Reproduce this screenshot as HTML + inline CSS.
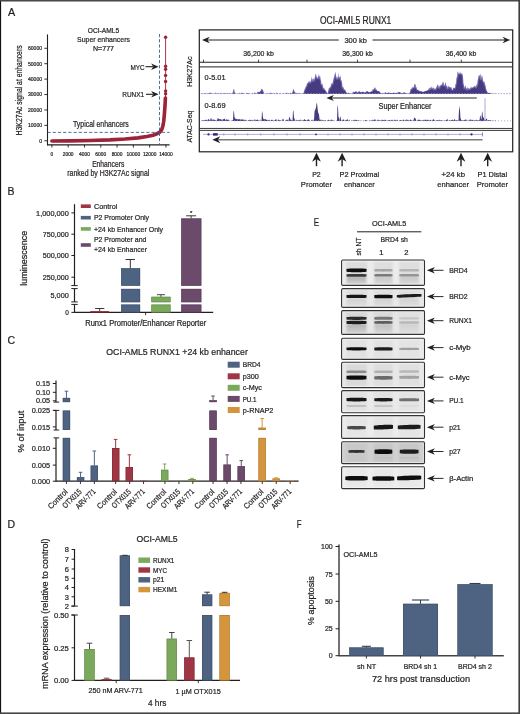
<!DOCTYPE html>
<html><head><meta charset="utf-8"><style>
html,body{margin:0;padding:0;background:#fff;}
body{width:520px;height:714px;overflow:hidden;font-family:"Liberation Sans",sans-serif;}
svg{display:block;will-change:transform;}
</style></head><body>
<svg width="520" height="714" viewBox="0 0 520 714" font-family="Liberation Sans, sans-serif" fill="#231f20"><style>text{stroke:#231f20;stroke-width:0.22px;}</style><rect x="0.00" y="0.00" width="520.00" height="714.00" fill="#ffffff"/>
<text x="8.00" y="15.90" font-size="10.8">A</text>
<text x="103.50" y="33.10" font-size="7.7" text-anchor="middle" textLength="31.5" lengthAdjust="spacingAndGlyphs">OCI-AML5</text>
<text x="103.50" y="42.30" font-size="7.8" text-anchor="middle" textLength="53" lengthAdjust="spacingAndGlyphs">Super enhancers</text>
<text x="103.50" y="50.70" font-size="7.5" text-anchor="middle" textLength="21" lengthAdjust="spacingAndGlyphs">N=777</text>
<line x1="47.50" y1="34.40" x2="47.50" y2="145.30" stroke="#231f20" stroke-width="1.1"/>
<line x1="47.00" y1="144.80" x2="169.60" y2="144.80" stroke="#231f20" stroke-width="1.3"/>
<line x1="44.30" y1="140.80" x2="47.50" y2="140.80" stroke="#231f20" stroke-width="0.9"/>
<text x="42.10" y="142.70" font-size="5.4" text-anchor="end" textLength="2.9" lengthAdjust="spacingAndGlyphs">0</text>
<line x1="44.30" y1="125.38" x2="47.50" y2="125.38" stroke="#231f20" stroke-width="0.9"/>
<text x="42.10" y="127.28" font-size="5.4" text-anchor="end" textLength="14.2" lengthAdjust="spacingAndGlyphs">10000</text>
<line x1="44.30" y1="109.96" x2="47.50" y2="109.96" stroke="#231f20" stroke-width="0.9"/>
<text x="42.10" y="111.86" font-size="5.4" text-anchor="end" textLength="14.2" lengthAdjust="spacingAndGlyphs">20000</text>
<line x1="44.30" y1="94.54" x2="47.50" y2="94.54" stroke="#231f20" stroke-width="0.9"/>
<text x="42.10" y="96.44" font-size="5.4" text-anchor="end" textLength="14.2" lengthAdjust="spacingAndGlyphs">30000</text>
<line x1="44.30" y1="79.12" x2="47.50" y2="79.12" stroke="#231f20" stroke-width="0.9"/>
<text x="42.10" y="81.02" font-size="5.4" text-anchor="end" textLength="14.2" lengthAdjust="spacingAndGlyphs">40000</text>
<line x1="44.30" y1="63.70" x2="47.50" y2="63.70" stroke="#231f20" stroke-width="0.9"/>
<text x="42.10" y="65.60" font-size="5.4" text-anchor="end" textLength="14.2" lengthAdjust="spacingAndGlyphs">50000</text>
<line x1="44.30" y1="48.28" x2="47.50" y2="48.28" stroke="#231f20" stroke-width="0.9"/>
<text x="42.10" y="50.18" font-size="5.4" text-anchor="end" textLength="14.2" lengthAdjust="spacingAndGlyphs">60000</text>
<line x1="51.90" y1="144.80" x2="51.90" y2="147.60" stroke="#231f20" stroke-width="0.9"/>
<text x="51.90" y="156.10" font-size="5.3" text-anchor="middle" textLength="2.7" lengthAdjust="spacingAndGlyphs">0</text>
<line x1="68.19" y1="144.80" x2="68.19" y2="147.60" stroke="#231f20" stroke-width="0.9"/>
<text x="68.19" y="156.10" font-size="5.3" text-anchor="middle" textLength="10.8" lengthAdjust="spacingAndGlyphs">2000</text>
<line x1="84.48" y1="144.80" x2="84.48" y2="147.60" stroke="#231f20" stroke-width="0.9"/>
<text x="84.48" y="156.10" font-size="5.3" text-anchor="middle" textLength="10.8" lengthAdjust="spacingAndGlyphs">4000</text>
<line x1="100.77" y1="144.80" x2="100.77" y2="147.60" stroke="#231f20" stroke-width="0.9"/>
<text x="100.77" y="156.10" font-size="5.3" text-anchor="middle" textLength="10.8" lengthAdjust="spacingAndGlyphs">6000</text>
<line x1="117.06" y1="144.80" x2="117.06" y2="147.60" stroke="#231f20" stroke-width="0.9"/>
<text x="117.06" y="156.10" font-size="5.3" text-anchor="middle" textLength="10.8" lengthAdjust="spacingAndGlyphs">8000</text>
<line x1="133.35" y1="144.80" x2="133.35" y2="147.60" stroke="#231f20" stroke-width="0.9"/>
<text x="133.35" y="156.10" font-size="5.3" text-anchor="middle" textLength="13.5" lengthAdjust="spacingAndGlyphs">10000</text>
<line x1="149.64" y1="144.80" x2="149.64" y2="147.60" stroke="#231f20" stroke-width="0.9"/>
<text x="149.64" y="156.10" font-size="5.3" text-anchor="middle" textLength="13.5" lengthAdjust="spacingAndGlyphs">12000</text>
<line x1="165.93" y1="144.80" x2="165.93" y2="147.60" stroke="#231f20" stroke-width="0.9"/>
<text x="165.93" y="156.10" font-size="5.3" text-anchor="middle" textLength="13.5" lengthAdjust="spacingAndGlyphs">14000</text>
<text x="108.20" y="166.60" font-size="8.6" text-anchor="middle" textLength="32.1" lengthAdjust="spacingAndGlyphs">Enhancers</text>
<text x="108.30" y="175.60" font-size="8.6" text-anchor="middle" textLength="82" lengthAdjust="spacingAndGlyphs">ranked by H3K27Ac signal</text>
<text x="21.80" y="90.40" font-size="8.8" text-anchor="middle" textLength="90" lengthAdjust="spacingAndGlyphs" transform="rotate(-90 21.80 90.40)">H3K27Ac signal at enhancers</text>
<text x="100.90" y="127.40" font-size="8.7" text-anchor="middle" textLength="55.8" lengthAdjust="spacingAndGlyphs">Typical enhancers</text>
<text x="144.60" y="69.50" font-size="8.0" text-anchor="end" textLength="14.2" lengthAdjust="spacingAndGlyphs">MYC</text>
<line x1="145.50" y1="66.70" x2="153.00" y2="66.70" stroke="#231f20" stroke-width="1.1"/>
<path d="M158.6,66.7 L151.1,63.5 L153.35,66.7 L151.1,69.9 Z" fill="#231f20"/>
<text x="144.20" y="97.20" font-size="8.0" text-anchor="end" textLength="22" lengthAdjust="spacingAndGlyphs">RUNX1</text>
<line x1="146.00" y1="94.30" x2="153.00" y2="94.30" stroke="#231f20" stroke-width="1.1"/>
<path d="M158.6,94.3 L151.1,91.1 L153.35,94.3 L151.1,97.5 Z" fill="#231f20"/>
<path d="M51.9,141.0 L70,140.9 L90,140.5 L110,139.9 L125,139.0 L138,137.9 L147,136.5 L153,135.2 L157,133.8 L159.8,132.1 L161.6,129.8 L162.8,126.4 L163.7,121.5 L164.4,114 L165.0,106 L165.4,98" fill="none" stroke="#9c2338" stroke-width="3.6" stroke-linecap="round" stroke-linejoin="round"/>
<line x1="165.60" y1="98.00" x2="165.60" y2="37.30" stroke="#9c2338" stroke-width="0.9"/>
<circle cx="165.6" cy="37.3" r="1.7" fill="#9c2338"/>
<circle cx="165.6" cy="66.2" r="1.7" fill="#9c2338"/>
<circle cx="165.6" cy="69.2" r="1.7" fill="#9c2338"/>
<circle cx="165.6" cy="75.4" r="1.7" fill="#9c2338"/>
<circle cx="165.6" cy="81.5" r="1.7" fill="#9c2338"/>
<circle cx="165.6" cy="91.0" r="1.7" fill="#9c2338"/>
<circle cx="165.6" cy="93.8" r="1.7" fill="#9c2338"/>
<line x1="47.50" y1="132.40" x2="169.60" y2="132.40" stroke="#3f5f8f" stroke-width="0.9" stroke-dasharray="3.2,2"/>
<line x1="159.50" y1="34.00" x2="159.50" y2="144.80" stroke="#3f5f8f" stroke-width="0.9" stroke-dasharray="3.2,2"/>
<text x="320.00" y="23.90" font-size="10.0" textLength="71.3" lengthAdjust="spacingAndGlyphs">OCI-AML5 RUNX1</text>
<rect x="199.3" y="29.9" width="313.4" height="121.9" fill="none" stroke="#231f20" stroke-width="1.2"/>
<line x1="205.00" y1="40.00" x2="338.80" y2="40.00" stroke="#231f20" stroke-width="1.2"/>
<line x1="372.50" y1="40.00" x2="507.00" y2="40.00" stroke="#231f20" stroke-width="1.2"/>
<path d="M202.0,40.0 L209.7,36.8 L207.39,40.0 L209.7,43.2 Z" fill="#231f20"/>
<path d="M510.3,40.0 L502.6,36.8 L504.91,40.0 L502.6,43.2 Z" fill="#231f20"/>
<text x="355.70" y="42.60" font-size="7.8" text-anchor="middle" textLength="22.5" lengthAdjust="spacingAndGlyphs">300 kb</text>
<line x1="199.30" y1="62.30" x2="512.70" y2="62.30" stroke="#231f20" stroke-width="1.1"/>
<line x1="203.50" y1="59.60" x2="203.50" y2="62.30" stroke="#231f20" stroke-width="0.8"/>
<line x1="258.50" y1="59.60" x2="258.50" y2="62.30" stroke="#231f20" stroke-width="0.8"/>
<line x1="307.00" y1="59.60" x2="307.00" y2="62.30" stroke="#231f20" stroke-width="0.8"/>
<line x1="357.50" y1="59.60" x2="357.50" y2="62.30" stroke="#231f20" stroke-width="0.8"/>
<line x1="410.00" y1="59.60" x2="410.00" y2="62.30" stroke="#231f20" stroke-width="0.8"/>
<line x1="461.30" y1="59.60" x2="461.30" y2="62.30" stroke="#231f20" stroke-width="0.8"/>
<text x="258.50" y="56.40" font-size="7.6" text-anchor="middle" textLength="30.5" lengthAdjust="spacingAndGlyphs">36,200 kb</text>
<text x="357.50" y="56.40" font-size="7.6" text-anchor="middle" textLength="30.5" lengthAdjust="spacingAndGlyphs">36,300 kb</text>
<text x="461.00" y="56.40" font-size="7.6" text-anchor="middle" textLength="30.5" lengthAdjust="spacingAndGlyphs">36,400 kb</text>
<line x1="199.30" y1="66.90" x2="512.70" y2="66.90" stroke="#231f20" stroke-width="1.0"/>
<text x="192.50" y="71.60" font-size="7.8" text-anchor="middle" textLength="30.5" lengthAdjust="spacingAndGlyphs" transform="rotate(-90 192.50 71.60)">H3K27Ac</text>
<text x="192.00" y="126.60" font-size="7.8" text-anchor="middle" textLength="31.8" lengthAdjust="spacingAndGlyphs" transform="rotate(-90 192.00 126.60)">ATAC-Seq</text>
<text x="204.60" y="80.40" font-size="7.6" textLength="21" lengthAdjust="spacingAndGlyphs">0-5.01</text>
<text x="204.60" y="107.90" font-size="7.6" textLength="21" lengthAdjust="spacingAndGlyphs">0-8.69</text>
<path d="M201.0,93.9 L201.0,92.93 L201.5,93.90 L202.0,92.99 L202.5,93.90 L203.0,92.99 L203.5,93.90 L204.0,93.90 L204.5,93.24 L205.0,92.63 L205.5,93.90 L206.0,92.42 L206.5,93.90 L207.0,93.90 L207.5,93.90 L208.0,93.58 L208.5,93.53 L209.0,93.31 L209.5,93.04 L210.0,92.59 L210.5,92.83 L211.0,92.81 L211.5,93.27 L212.0,93.90 L212.5,93.90 L213.0,93.90 L213.5,93.90 L214.0,93.32 L214.5,93.52 L215.0,93.90 L215.5,92.58 L216.0,92.45 L216.5,93.90 L217.0,93.35 L217.5,93.90 L218.0,92.42 L218.5,93.51 L219.0,93.90 L219.5,93.90 L220.0,93.50 L220.5,92.44 L221.0,93.90 L221.5,93.30 L222.0,93.53 L222.5,93.90 L223.0,92.93 L223.5,93.37 L224.0,93.90 L224.5,92.83 L225.0,93.10 L225.5,93.28 L226.0,93.90 L226.5,93.90 L227.0,92.54 L227.5,93.13 L228.0,93.90 L228.5,93.90 L229.0,92.41 L229.5,93.29 L230.0,93.90 L230.5,93.24 L231.0,93.49 L231.5,93.90 L232.0,92.88 L232.5,93.14 L233.0,91.26 L233.5,89.73 L234.0,88.50 L234.5,91.18 L235.0,92.88 L235.5,93.90 L236.0,93.90 L236.5,93.42 L237.0,93.90 L237.5,93.90 L238.0,93.37 L238.5,93.90 L239.0,93.90 L239.5,92.46 L240.0,93.90 L240.5,93.90 L241.0,93.48 L241.5,92.44 L242.0,92.75 L242.5,92.61 L243.0,93.90 L243.5,93.39 L244.0,93.90 L244.5,93.33 L245.0,93.90 L245.5,93.90 L246.0,93.90 L246.5,92.50 L247.0,93.58 L247.5,93.07 L248.0,93.39 L248.5,92.91 L249.0,93.17 L249.5,93.90 L250.0,93.90 L250.5,93.90 L251.0,93.90 L251.5,93.90 L252.0,93.56 L252.5,92.51 L253.0,93.90 L253.5,93.90 L254.0,92.84 L254.5,92.72 L255.0,92.40 L255.5,92.94 L256.0,93.90 L256.5,93.56 L257.0,92.70 L257.5,91.84 L258.0,91.75 L258.5,92.18 L259.0,92.60 L259.5,92.07 L260.0,91.53 L260.5,91.00 L261.0,89.47 L261.5,89.37 L262.0,88.53 L262.5,89.69 L263.0,89.86 L263.5,91.67 L264.0,92.78 L264.5,93.90 L265.0,93.90 L265.5,93.90 L266.0,93.90 L266.5,92.90 L267.0,93.90 L267.5,92.83 L268.0,93.90 L268.5,93.90 L269.0,93.90 L269.5,92.72 L270.0,93.90 L270.5,92.59 L271.0,92.70 L271.5,92.88 L272.0,93.32 L272.5,93.90 L273.0,92.86 L273.5,93.90 L274.0,93.59 L274.5,92.79 L275.0,93.40 L275.5,93.90 L276.0,93.90 L276.5,92.53 L277.0,92.80 L277.5,93.08 L278.0,93.90 L278.5,93.90 L279.0,93.90 L279.5,92.90 L280.0,93.44 L280.5,92.60 L281.0,93.90 L281.5,93.90 L282.0,93.90 L282.5,93.40 L283.0,93.27 L283.5,93.10 L284.0,93.90 L284.5,93.22 L285.0,93.90 L285.5,93.90 L286.0,93.51 L286.5,92.55 L287.0,92.75 L287.5,93.90 L288.0,92.65 L288.5,93.44 L289.0,93.57 L289.5,93.90 L290.0,93.43 L290.5,92.84 L291.0,92.84 L291.5,93.90 L292.0,93.33 L292.5,91.92 L293.0,89.76 L293.5,88.70 L294.0,90.28 L294.5,91.67 L295.0,91.81 L295.5,93.12 L296.0,93.90 L296.5,93.27 L297.0,92.76 L297.5,92.86 L298.0,93.90 L298.5,92.65 L299.0,93.90 L299.5,92.48 L300.0,93.90 L300.5,93.06 L301.0,93.90 L301.5,93.90 L302.0,92.92 L302.5,93.90 L303.0,93.90 L303.5,92.71 L304.0,91.50 L304.5,89.18 L305.0,88.64 L305.5,87.13 L306.0,85.99 L306.5,85.69 L307.0,83.01 L307.5,83.24 L308.0,82.93 L308.5,80.98 L309.0,82.17 L309.5,80.38 L310.0,82.66 L310.5,81.50 L311.0,80.19 L311.5,75.98 L312.0,81.15 L312.5,79.01 L313.0,78.46 L313.5,78.43 L314.0,80.75 L314.5,78.25 L315.0,76.84 L315.5,74.36 L316.0,73.64 L316.5,76.81 L317.0,76.75 L317.5,78.49 L318.0,76.88 L318.5,75.86 L319.0,73.99 L319.5,77.63 L320.0,74.99 L320.5,78.64 L321.0,80.50 L321.5,84.41 L322.0,83.66 L322.5,83.90 L323.0,86.80 L323.5,88.40 L324.0,87.32 L324.5,88.71 L325.0,90.04 L325.5,90.00 L326.0,90.93 L326.5,91.76 L327.0,92.70 L327.5,93.70 L328.0,91.70 L328.5,89.77 L329.0,87.82 L329.5,87.85 L330.0,87.45 L330.5,86.41 L331.0,85.10 L331.5,83.43 L332.0,82.80 L332.5,83.92 L333.0,81.07 L333.5,78.89 L334.0,76.82 L334.5,75.14 L335.0,73.05 L335.5,72.09 L336.0,75.65 L336.5,77.09 L337.0,78.98 L337.5,76.27 L338.0,78.31 L338.5,72.01 L339.0,78.11 L339.5,76.67 L340.0,77.28 L340.5,75.36 L341.0,80.37 L341.5,80.26 L342.0,82.22 L342.5,86.50 L343.0,87.86 L343.5,86.63 L344.0,89.05 L344.5,89.80 L345.0,89.14 L345.5,90.60 L346.0,91.55 L346.5,92.30 L347.0,93.03 L347.5,93.75 L348.0,92.46 L348.5,92.68 L349.0,93.04 L349.5,93.08 L350.0,93.90 L350.5,92.76 L351.0,93.90 L351.5,93.06 L352.0,93.90 L352.5,92.70 L353.0,91.50 L353.5,92.00 L354.0,92.50 L354.5,92.12 L355.0,91.75 L355.5,91.38 L356.0,91.00 L356.5,91.60 L357.0,92.20 L357.5,92.80 L358.0,92.13 L358.5,91.47 L359.0,91.03 L359.5,91.22 L360.0,91.65 L360.5,92.08 L361.0,92.50 L361.5,92.28 L362.0,92.05 L362.5,91.82 L363.0,91.60 L363.5,91.90 L364.0,92.20 L364.5,92.50 L365.0,92.80 L365.5,92.22 L366.0,91.65 L366.5,91.08 L367.0,91.30 L367.5,91.03 L368.0,91.55 L368.5,92.07 L369.0,92.60 L369.5,92.32 L370.0,92.05 L370.5,91.78 L371.0,91.50 L371.5,91.07 L372.0,91.80 L372.5,89.48 L373.0,88.87 L373.5,89.50 L374.0,88.79 L374.5,87.82 L375.0,87.31 L375.5,88.23 L376.0,89.73 L376.5,89.16 L377.0,89.99 L377.5,91.20 L378.0,90.97 L378.5,90.96 L379.0,91.53 L379.5,91.27 L380.0,92.03 L380.5,92.80 L381.0,93.17 L381.5,93.53 L382.0,93.59 L382.5,92.83 L383.0,93.90 L383.5,92.47 L384.0,93.90 L384.5,93.05 L385.0,92.20 L385.5,92.40 L386.0,92.60 L386.5,92.80 L387.0,93.00 L387.5,92.88 L388.0,92.75 L388.5,92.62 L389.0,92.50 L389.5,92.67 L390.0,92.85 L390.5,93.03 L391.0,93.20 L391.5,93.10 L392.0,93.00 L392.5,92.90 L393.0,92.80 L393.5,92.70 L394.0,92.60 L394.5,92.77 L395.0,92.95 L395.5,93.12 L396.0,93.30 L396.5,93.08 L397.0,92.85 L397.5,92.62 L398.0,92.40 L398.5,92.38 L399.0,92.35 L399.5,92.33 L400.0,92.30 L400.5,92.58 L401.0,92.85 L401.5,93.12 L402.0,93.40 L402.5,93.10 L403.0,92.80 L403.5,92.50 L404.0,92.20 L404.5,92.50 L405.0,92.80 L405.5,93.10 L406.0,93.40 L406.5,93.53 L407.0,93.65 L407.5,93.78 L408.0,92.81 L408.5,93.90 L409.0,93.13 L409.5,93.12 L410.0,91.81 L410.5,89.30 L411.0,89.02 L411.5,88.66 L412.0,87.22 L412.5,87.51 L413.0,87.43 L413.5,87.61 L414.0,85.68 L414.5,84.31 L415.0,83.75 L415.5,84.39 L416.0,87.27 L416.5,87.02 L417.0,89.23 L417.5,89.66 L418.0,90.22 L418.5,90.57 L419.0,89.51 L419.5,91.15 L420.0,91.42 L420.5,91.21 L421.0,91.00 L421.5,91.25 L422.0,91.50 L422.5,91.75 L423.0,92.00 L423.5,91.80 L424.0,91.60 L424.5,91.40 L425.0,91.20 L425.5,91.03 L426.0,90.79 L426.5,91.00 L427.0,90.13 L427.5,90.19 L428.0,90.24 L428.5,89.56 L429.0,87.62 L429.5,87.91 L430.0,89.10 L430.5,86.76 L431.0,88.39 L431.5,86.97 L432.0,86.50 L432.5,88.41 L433.0,88.13 L433.5,87.30 L434.0,89.16 L434.5,87.70 L435.0,89.62 L435.5,88.86 L436.0,87.64 L436.5,86.93 L437.0,85.95 L437.5,84.80 L438.0,84.42 L438.5,85.75 L439.0,87.93 L439.5,85.82 L440.0,86.34 L440.5,85.06 L441.0,85.09 L441.5,84.51 L442.0,84.85 L442.5,81.38 L443.0,83.56 L443.5,81.15 L444.0,85.06 L444.5,85.79 L445.0,83.64 L445.5,81.70 L446.0,84.75 L446.5,86.36 L447.0,85.36 L447.5,88.58 L448.0,85.76 L448.5,86.19 L449.0,87.35 L449.5,86.76 L450.0,87.03 L450.5,87.72 L451.0,86.61 L451.5,87.81 L452.0,89.03 L452.5,90.39 L453.0,88.05 L453.5,87.46 L454.0,88.33 L454.5,87.83 L455.0,87.69 L455.5,83.79 L456.0,83.77 L456.5,76.91 L457.0,77.80 L457.5,71.57 L458.0,71.88 L458.5,73.24 L459.0,73.33 L459.5,73.94 L460.0,71.21 L460.5,72.73 L461.0,74.01 L461.5,73.58 L462.0,73.23 L462.5,74.01 L463.0,76.76 L463.5,83.70 L464.0,85.09 L464.5,88.35 L465.0,86.34 L465.5,85.28 L466.0,88.12 L466.5,87.79 L467.0,89.72 L467.5,86.87 L468.0,88.20 L468.5,88.52 L469.0,87.78 L469.5,89.27 L470.0,88.18 L470.5,88.12 L471.0,86.38 L471.5,87.82 L472.0,87.57 L472.5,87.40 L473.0,87.22 L473.5,86.75 L474.0,86.40 L474.5,85.87 L475.0,86.68 L475.5,85.77 L476.0,87.33 L476.5,83.92 L477.0,85.16 L477.5,81.57 L478.0,78.80 L478.5,76.61 L479.0,74.81 L479.5,76.25 L480.0,74.38 L480.5,73.92 L481.0,79.47 L481.5,75.68 L482.0,75.44 L482.5,76.91 L483.0,80.07 L483.5,81.66 L484.0,82.08 L484.5,81.44 L485.0,84.77 L485.5,85.32 L486.0,88.39 L486.5,89.93 L487.0,91.17 L487.5,92.00 L488.0,92.64 L488.5,92.99 L489.0,93.10 L489.5,92.85 L490.0,92.60 L490.5,93.03 L491.0,93.47 L491.5,93.33 L492.0,93.90 L492.5,93.53 L493.0,93.65 L493.5,93.90 L494.0,93.90 L494.5,93.77 L495.0,93.60 L495.5,93.90 L496.0,93.90 L496.0,93.9 Z" fill="#7166ad"/>
<path d="M201.0,93.9 L201.0,93.90 L201.5,93.90 L202.0,93.90 L202.5,93.90 L203.0,93.90 L203.5,93.90 L204.0,93.90 L204.5,93.90 L205.0,93.90 L205.5,93.90 L206.0,93.90 L206.5,93.90 L207.0,93.90 L207.5,93.90 L208.0,93.90 L208.5,93.90 L209.0,93.58 L209.5,93.53 L210.0,93.31 L210.5,93.27 L211.0,93.90 L211.5,93.90 L212.0,93.90 L212.5,93.90 L213.0,93.90 L213.5,93.90 L214.0,93.90 L214.5,93.90 L215.0,93.90 L215.5,93.90 L216.0,93.90 L216.5,93.90 L217.0,93.90 L217.5,93.90 L218.0,93.90 L218.5,93.90 L219.0,93.90 L219.5,93.90 L220.0,93.90 L220.5,93.90 L221.0,93.90 L221.5,93.90 L222.0,93.90 L222.5,93.90 L223.0,93.90 L223.5,93.90 L224.0,93.90 L224.5,93.90 L225.0,93.90 L225.5,93.90 L226.0,93.90 L226.5,93.90 L227.0,93.90 L227.5,93.90 L228.0,93.90 L228.5,93.90 L229.0,93.90 L229.5,93.90 L230.0,93.90 L230.5,93.90 L231.0,93.90 L231.5,93.90 L232.0,93.90 L232.5,93.90 L233.0,93.14 L233.5,93.14 L234.0,92.88 L234.5,93.90 L235.0,93.90 L235.5,93.90 L236.0,93.90 L236.5,93.90 L237.0,93.90 L237.5,93.90 L238.0,93.90 L238.5,93.90 L239.0,93.90 L239.5,93.90 L240.0,93.90 L240.5,93.90 L241.0,93.90 L241.5,93.90 L242.0,93.90 L242.5,93.90 L243.0,93.90 L243.5,93.90 L244.0,93.90 L244.5,93.90 L245.0,93.90 L245.5,93.90 L246.0,93.90 L246.5,93.90 L247.0,93.90 L247.5,93.58 L248.0,93.58 L248.5,93.90 L249.0,93.90 L249.5,93.90 L250.0,93.90 L250.5,93.90 L251.0,93.90 L251.5,93.90 L252.0,93.90 L252.5,93.90 L253.0,93.90 L253.5,93.90 L254.0,93.90 L254.5,93.90 L255.0,93.90 L255.5,93.90 L256.0,93.90 L256.5,93.90 L257.0,93.90 L257.5,93.56 L258.0,92.70 L258.5,92.60 L259.0,92.60 L259.5,92.60 L260.0,92.60 L260.5,92.07 L261.0,91.53 L261.5,91.00 L262.0,90.66 L262.5,91.67 L263.0,92.78 L263.5,93.90 L264.0,93.90 L264.5,93.90 L265.0,93.90 L265.5,93.90 L266.0,93.90 L266.5,93.90 L267.0,93.90 L267.5,93.90 L268.0,93.90 L268.5,93.90 L269.0,93.90 L269.5,93.90 L270.0,93.90 L270.5,93.90 L271.0,93.90 L271.5,93.90 L272.0,93.90 L272.5,93.90 L273.0,93.90 L273.5,93.90 L274.0,93.90 L274.5,93.90 L275.0,93.90 L275.5,93.90 L276.0,93.90 L276.5,93.90 L277.0,93.90 L277.5,93.90 L278.0,93.90 L278.5,93.90 L279.0,93.90 L279.5,93.90 L280.0,93.90 L280.5,93.90 L281.0,93.90 L281.5,93.90 L282.0,93.90 L282.5,93.90 L283.0,93.90 L283.5,93.90 L284.0,93.90 L284.5,93.90 L285.0,93.90 L285.5,93.90 L286.0,93.90 L286.5,93.90 L287.0,93.90 L287.5,93.90 L288.0,93.90 L288.5,93.90 L289.0,93.90 L289.5,93.90 L290.0,93.90 L290.5,93.90 L291.0,93.90 L291.5,93.90 L292.0,93.90 L292.5,93.90 L293.0,93.33 L293.5,91.92 L294.0,91.81 L294.5,93.12 L295.0,93.90 L295.5,93.90 L296.0,93.90 L296.5,93.90 L297.0,93.90 L297.5,93.90 L298.0,93.90 L298.5,93.90 L299.0,93.90 L299.5,93.90 L300.0,93.90 L300.5,93.90 L301.0,93.90 L301.5,93.90 L302.0,93.90 L302.5,93.90 L303.0,93.90 L303.5,93.90 L304.0,93.90 L304.5,92.71 L305.0,91.50 L305.5,89.98 L306.0,89.44 L306.5,87.93 L307.0,86.79 L307.5,86.49 L308.0,84.04 L308.5,84.04 L309.0,83.73 L309.5,83.46 L310.0,83.46 L310.5,83.46 L311.0,83.46 L311.5,82.30 L312.0,81.95 L312.5,81.95 L313.0,81.95 L313.5,81.55 L314.0,81.55 L314.5,81.55 L315.0,81.55 L315.5,79.05 L316.0,77.64 L316.5,79.29 L317.0,79.29 L317.5,79.29 L318.0,79.29 L318.5,79.29 L319.0,78.43 L319.5,79.44 L320.0,81.30 L320.5,85.21 L321.0,85.21 L321.5,85.21 L322.0,87.60 L322.5,89.20 L323.0,89.20 L323.5,89.51 L324.0,90.04 L324.5,90.04 L325.0,90.93 L325.5,91.76 L326.0,92.70 L326.5,93.70 L327.0,93.70 L327.5,93.70 L328.0,93.70 L328.5,93.70 L329.0,91.70 L329.5,90.57 L330.0,88.65 L330.5,88.65 L331.0,88.25 L331.5,87.21 L332.0,85.90 L332.5,84.72 L333.0,84.72 L333.5,84.72 L334.0,81.87 L334.5,79.69 L335.0,77.62 L335.5,77.89 L336.0,79.78 L336.5,79.78 L337.0,79.78 L337.5,79.78 L338.0,79.78 L338.5,79.11 L339.0,79.11 L339.5,78.91 L340.0,81.17 L340.5,81.17 L341.0,83.02 L341.5,87.30 L342.0,88.66 L342.5,88.66 L343.0,89.85 L343.5,90.60 L344.0,90.60 L344.5,90.60 L345.0,91.55 L345.5,92.30 L346.0,93.03 L346.5,93.75 L347.0,93.75 L347.5,93.75 L348.0,93.75 L348.5,93.75 L349.0,93.90 L349.5,93.90 L350.0,93.90 L350.5,93.90 L351.0,93.90 L351.5,93.90 L352.0,93.90 L352.5,93.90 L353.0,93.90 L353.5,92.70 L354.0,92.50 L354.5,92.50 L355.0,92.50 L355.5,92.12 L356.0,92.20 L356.5,92.80 L357.0,92.80 L357.5,92.80 L358.0,92.80 L358.5,92.80 L359.0,92.13 L359.5,92.08 L360.0,92.50 L360.5,92.50 L361.0,92.50 L361.5,92.50 L362.0,92.50 L362.5,92.28 L363.0,92.20 L363.5,92.50 L364.0,92.80 L364.5,92.80 L365.0,92.80 L365.5,92.80 L366.0,92.80 L366.5,92.22 L367.0,91.65 L367.5,92.07 L368.0,92.60 L368.5,92.60 L369.0,92.60 L369.5,92.60 L370.0,92.60 L370.5,92.32 L371.0,92.05 L371.5,91.80 L372.0,91.80 L372.5,91.80 L373.0,91.80 L373.5,90.30 L374.0,90.30 L374.5,90.30 L375.0,90.53 L375.5,90.53 L376.0,89.99 L376.5,91.20 L377.0,91.20 L377.5,91.20 L378.0,91.53 L378.5,91.53 L379.0,92.03 L379.5,92.80 L380.0,93.17 L380.5,93.53 L381.0,93.59 L381.5,93.59 L382.0,93.90 L382.5,93.90 L383.0,93.90 L383.5,93.90 L384.0,93.90 L384.5,93.90 L385.0,93.90 L385.5,93.05 L386.0,93.00 L386.5,93.00 L387.0,93.00 L387.5,93.00 L388.0,93.00 L388.5,92.88 L389.0,92.85 L389.5,93.03 L390.0,93.20 L390.5,93.20 L391.0,93.20 L391.5,93.20 L392.0,93.20 L392.5,93.10 L393.0,93.00 L393.5,92.90 L394.0,92.95 L394.5,93.12 L395.0,93.30 L395.5,93.30 L396.0,93.30 L396.5,93.30 L397.0,93.30 L397.5,93.08 L398.0,92.85 L398.5,92.62 L399.0,92.40 L399.5,92.58 L400.0,92.85 L400.5,93.12 L401.0,93.40 L401.5,93.40 L402.0,93.40 L402.5,93.40 L403.0,93.40 L403.5,93.10 L404.0,92.80 L404.5,93.10 L405.0,93.40 L405.5,93.53 L406.0,93.65 L406.5,93.78 L407.0,93.78 L407.5,93.90 L408.0,93.90 L408.5,93.90 L409.0,93.90 L409.5,93.90 L410.0,93.13 L410.5,93.12 L411.0,91.81 L411.5,90.10 L412.0,89.82 L412.5,89.46 L413.0,88.41 L413.5,88.41 L414.0,88.41 L414.5,88.41 L415.0,88.07 L415.5,88.07 L416.0,90.03 L416.5,90.46 L417.0,90.22 L417.5,90.57 L418.0,90.57 L418.5,91.15 L419.0,91.42 L419.5,91.42 L420.0,91.42 L420.5,91.42 L421.0,91.50 L421.5,91.75 L422.0,92.00 L422.5,92.00 L423.0,92.00 L423.5,92.00 L424.0,92.00 L424.5,91.80 L425.0,91.60 L425.5,91.40 L426.0,91.20 L426.5,91.03 L427.0,91.00 L427.5,91.00 L428.0,90.24 L428.5,90.24 L429.0,90.24 L429.5,90.36 L430.0,89.90 L430.5,89.90 L431.0,89.90 L431.5,89.21 L432.0,89.21 L432.5,89.21 L433.0,89.96 L433.5,89.96 L434.0,90.42 L434.5,90.42 L435.0,90.42 L435.5,90.42 L436.0,90.42 L436.5,89.66 L437.0,88.44 L437.5,87.73 L438.0,88.73 L438.5,88.73 L439.0,88.73 L439.5,88.73 L440.0,88.73 L440.5,87.14 L441.0,87.14 L441.5,85.89 L442.0,85.89 L442.5,85.65 L443.0,85.86 L443.5,86.59 L444.0,86.59 L444.5,86.59 L445.0,86.59 L445.5,87.16 L446.0,87.16 L446.5,89.38 L447.0,89.38 L447.5,89.38 L448.0,89.38 L448.5,89.38 L449.0,88.15 L449.5,88.52 L450.0,88.52 L450.5,88.61 L451.0,89.83 L451.5,90.39 L452.0,90.39 L452.5,90.39 L453.0,90.39 L453.5,90.39 L454.0,89.13 L454.5,89.13 L455.0,89.13 L455.5,88.63 L456.0,88.49 L456.5,84.59 L457.0,84.57 L457.5,78.60 L458.0,78.60 L458.5,74.74 L459.0,74.74 L459.5,74.74 L460.0,74.81 L460.5,74.81 L461.0,74.81 L461.5,74.81 L462.0,77.56 L462.5,84.50 L463.0,85.89 L463.5,89.15 L464.0,89.15 L464.5,89.15 L465.0,89.15 L465.5,89.15 L466.0,90.52 L466.5,90.52 L467.0,90.52 L467.5,90.52 L468.0,90.52 L468.5,90.07 L469.0,90.07 L469.5,90.07 L470.0,90.07 L470.5,90.07 L471.0,88.98 L471.5,88.92 L472.0,88.62 L472.5,88.62 L473.0,88.37 L473.5,88.20 L474.0,88.02 L474.5,87.55 L475.0,88.13 L475.5,88.13 L476.0,88.13 L476.5,88.13 L477.0,88.13 L477.5,85.96 L478.0,85.96 L478.5,82.37 L479.0,79.60 L479.5,77.41 L480.0,80.27 L480.5,80.27 L481.0,80.27 L481.5,80.27 L482.0,80.87 L482.5,82.46 L483.0,82.88 L483.5,82.88 L484.0,85.57 L484.5,86.12 L485.0,89.19 L485.5,89.93 L486.0,91.17 L486.5,92.00 L487.0,92.64 L487.5,92.99 L488.0,93.10 L488.5,93.10 L489.0,93.10 L489.5,93.10 L490.0,93.47 L490.5,93.47 L491.0,93.90 L491.5,93.90 L492.0,93.90 L492.5,93.90 L493.0,93.90 L493.5,93.90 L494.0,93.90 L494.5,93.90 L495.0,93.90 L495.5,93.90 L496.0,93.90 L496.0,93.9 Z" fill="#463a80"/>
<line x1="201.00" y1="93.60" x2="511.00" y2="93.60" stroke="#9a94c8" stroke-width="0.8" stroke-dasharray="1.6,1.2"/>
<path d="M201.0,121.0 L201.0,121.00 L201.5,121.00 L202.0,121.00 L202.5,120.04 L203.0,120.15 L203.5,120.54 L204.0,120.52 L204.5,120.60 L205.0,119.79 L205.5,119.94 L206.0,119.50 L206.5,119.94 L207.0,121.00 L207.5,119.91 L208.0,119.58 L208.5,119.00 L209.0,119.58 L209.5,120.08 L210.0,121.00 L210.5,118.66 L211.0,118.00 L211.5,118.66 L212.0,121.00 L212.5,119.70 L213.0,119.00 L213.5,119.70 L214.0,119.94 L214.5,119.50 L215.0,119.94 L215.5,120.38 L216.0,120.45 L216.5,121.00 L217.0,120.49 L217.5,118.73 L218.0,117.80 L218.5,118.73 L219.0,119.58 L219.5,119.00 L220.0,119.17 L220.5,119.08 L221.0,119.50 L221.5,119.55 L222.0,121.00 L222.5,119.58 L223.0,119.00 L223.5,119.58 L224.0,118.97 L224.5,118.40 L225.0,118.97 L225.5,120.54 L226.0,120.25 L226.5,119.21 L227.0,119.20 L227.5,119.72 L228.0,119.94 L228.5,119.50 L229.0,119.94 L229.5,121.00 L230.0,120.41 L230.5,121.00 L231.0,121.00 L231.5,121.00 L232.0,121.00 L232.5,119.83 L233.0,121.00 L233.5,110.68 L234.0,111.52 L234.5,117.23 L235.0,117.93 L235.5,119.06 L236.0,118.80 L236.5,119.06 L237.0,119.31 L237.5,119.15 L238.0,119.47 L238.5,119.23 L239.0,119.00 L239.5,119.23 L240.0,119.47 L240.5,119.70 L241.0,119.40 L241.5,119.46 L242.0,119.20 L242.5,119.46 L243.0,119.72 L243.5,119.75 L244.0,119.40 L244.5,119.75 L245.0,121.00 L245.5,119.37 L246.0,121.00 L246.5,119.63 L247.0,121.00 L247.5,121.00 L248.0,120.44 L248.5,120.29 L249.0,120.00 L249.5,120.29 L250.0,119.53 L250.5,120.11 L251.0,120.48 L251.5,120.52 L252.0,119.44 L252.5,120.58 L253.0,120.58 L253.5,120.29 L254.0,121.00 L254.5,119.44 L255.0,119.06 L255.5,121.00 L256.0,119.56 L256.5,120.39 L257.0,119.48 L257.5,119.73 L258.0,119.86 L258.5,120.59 L259.0,121.00 L259.5,121.00 L260.0,119.08 L260.5,121.00 L261.0,120.60 L261.5,121.00 L262.0,110.77 L262.5,113.08 L263.0,118.00 L263.5,118.88 L264.0,119.58 L264.5,119.29 L265.0,119.00 L265.5,119.29 L266.0,119.58 L266.5,119.99 L267.0,119.42 L267.5,120.15 L268.0,119.80 L268.5,120.15 L269.0,121.00 L269.5,119.34 L270.0,121.00 L270.5,121.00 L271.0,120.37 L271.5,119.94 L272.0,119.50 L272.5,119.94 L273.0,121.00 L273.5,121.00 L274.0,120.53 L274.5,120.59 L275.0,120.31 L275.5,119.44 L276.0,119.00 L276.5,119.44 L277.0,121.00 L277.5,120.55 L278.0,121.00 L278.5,119.10 L279.0,119.98 L279.5,120.01 L280.0,120.00 L280.5,120.29 L281.0,121.00 L281.5,120.59 L282.0,121.00 L282.5,119.28 L283.0,118.80 L283.5,119.08 L284.0,121.00 L284.5,121.00 L285.0,121.00 L285.5,120.55 L286.0,121.00 L286.5,119.87 L287.0,119.40 L287.5,119.87 L288.0,120.57 L288.5,121.00 L289.0,117.78 L289.5,117.00 L290.0,117.78 L290.5,120.54 L291.0,119.07 L291.5,120.47 L292.0,120.12 L292.5,121.00 L293.0,110.25 L293.5,111.13 L294.0,117.50 L294.5,118.52 L295.0,121.00 L295.5,121.00 L296.0,119.24 L296.5,121.00 L297.0,119.51 L297.5,120.59 L298.0,121.00 L298.5,120.15 L299.0,119.80 L299.5,120.15 L300.0,120.48 L300.5,119.02 L301.0,121.00 L301.5,121.00 L302.0,119.74 L302.5,121.00 L303.0,119.52 L303.5,120.52 L304.0,119.90 L304.5,119.08 L305.0,119.55 L305.5,120.29 L306.0,120.08 L306.5,121.00 L307.0,121.00 L307.5,119.58 L308.0,120.05 L308.5,119.29 L309.0,119.43 L309.5,120.15 L310.0,121.00 L310.5,121.00 L311.0,121.00 L311.5,119.57 L312.0,121.00 L312.5,120.57 L313.0,119.08 L313.5,121.00 L314.0,120.19 L314.5,111.63 L315.0,110.27 L315.5,108.91 L316.0,107.54 L316.5,103.66 L317.0,102.64 L317.5,107.74 L318.0,112.00 L318.5,113.25 L319.0,114.50 L319.5,118.66 L320.0,120.53 L320.5,119.05 L321.0,121.00 L321.5,120.50 L322.0,119.35 L322.5,120.56 L323.0,120.50 L323.5,120.04 L324.0,121.00 L324.5,120.43 L325.0,120.20 L325.5,120.10 L326.0,121.00 L326.5,121.00 L327.0,120.60 L327.5,121.00 L328.0,119.73 L328.5,119.63 L329.0,120.59 L329.5,120.23 L330.0,121.00 L330.5,119.89 L331.0,119.74 L331.5,119.36 L332.0,121.00 L332.5,119.42 L333.0,121.00 L333.5,121.00 L334.0,119.74 L334.5,121.00 L335.0,121.00 L335.5,121.00 L336.0,121.00 L336.5,121.00 L337.0,121.00 L337.5,104.43 L338.0,107.51 L338.5,117.18 L339.0,117.70 L339.5,121.00 L340.0,117.17 L340.5,116.29 L341.0,119.73 L341.5,121.00 L342.0,120.42 L342.5,119.75 L343.0,119.40 L343.5,119.75 L344.0,119.23 L344.5,121.00 L345.0,121.00 L345.5,120.29 L346.0,120.00 L346.5,120.29 L347.0,119.05 L347.5,119.34 L348.0,120.59 L348.5,121.00 L349.0,121.00 L349.5,119.23 L350.0,121.00 L350.5,121.00 L351.0,121.00 L351.5,121.00 L352.0,119.75 L352.5,121.00 L353.0,121.00 L353.5,120.13 L354.0,119.44 L354.5,120.37 L355.0,119.60 L355.5,120.43 L356.0,120.20 L356.5,119.40 L357.0,120.58 L357.5,121.00 L358.0,120.08 L358.5,121.00 L359.0,119.74 L359.5,121.00 L360.0,121.00 L360.5,121.00 L361.0,121.00 L361.5,121.00 L362.0,120.19 L362.5,121.00 L363.0,121.00 L363.5,121.00 L364.0,121.00 L364.5,121.00 L365.0,119.94 L365.5,120.24 L366.0,120.00 L366.5,120.29 L367.0,121.00 L367.5,120.52 L368.0,121.00 L368.5,121.00 L369.0,120.60 L369.5,121.00 L370.0,120.58 L370.5,121.00 L371.0,119.68 L371.5,121.00 L372.0,120.16 L372.5,120.00 L373.0,119.60 L373.5,120.53 L374.0,120.60 L374.5,119.12 L375.0,119.80 L375.5,119.49 L376.0,120.51 L376.5,121.00 L377.0,120.54 L377.5,120.55 L378.0,119.27 L378.5,120.13 L379.0,119.77 L379.5,120.38 L380.0,121.00 L380.5,120.33 L381.0,120.22 L381.5,121.00 L382.0,119.40 L382.5,119.65 L383.0,120.00 L383.5,120.29 L384.0,120.57 L384.5,119.44 L385.0,120.21 L385.5,119.55 L386.0,120.60 L386.5,121.00 L387.0,120.19 L387.5,121.00 L388.0,121.00 L388.5,120.34 L389.0,120.06 L389.5,119.69 L390.0,121.00 L390.5,119.89 L391.0,121.00 L391.5,119.94 L392.0,119.50 L392.5,119.94 L393.0,121.00 L393.5,121.00 L394.0,121.00 L394.5,119.08 L395.0,121.00 L395.5,119.61 L396.0,120.51 L396.5,121.00 L397.0,119.39 L397.5,120.08 L398.0,121.00 L398.5,121.00 L399.0,120.59 L399.5,120.52 L400.0,120.58 L400.5,120.08 L401.0,120.00 L401.5,120.29 L402.0,121.00 L402.5,121.00 L403.0,119.56 L403.5,119.75 L404.0,119.71 L404.5,121.00 L405.0,120.56 L405.5,119.42 L406.0,121.00 L406.5,119.30 L407.0,119.60 L407.5,120.01 L408.0,121.00 L408.5,119.75 L409.0,120.54 L409.5,120.51 L410.0,120.40 L410.5,119.25 L411.0,120.11 L411.5,121.00 L412.0,119.57 L412.5,121.00 L413.0,121.00 L413.5,120.13 L414.0,118.24 L414.5,117.62 L415.0,117.99 L415.5,118.60 L416.0,119.68 L416.5,121.00 L417.0,121.00 L417.5,121.00 L418.0,119.38 L418.5,120.08 L419.0,119.35 L419.5,120.29 L420.0,120.00 L420.5,119.69 L421.0,121.00 L421.5,120.52 L422.0,120.54 L422.5,120.41 L423.0,119.84 L423.5,120.42 L424.0,119.18 L424.5,120.45 L425.0,120.44 L425.5,119.52 L426.0,119.77 L426.5,120.08 L427.0,119.80 L427.5,119.99 L428.0,119.62 L428.5,120.33 L429.0,121.00 L429.5,120.60 L430.0,119.84 L430.5,119.73 L431.0,120.46 L431.5,121.00 L432.0,120.30 L432.5,119.94 L433.0,119.50 L433.5,119.28 L434.0,119.55 L434.5,120.37 L435.0,121.00 L435.5,121.00 L436.0,121.00 L436.5,120.32 L437.0,120.51 L437.5,119.70 L438.0,120.40 L438.5,119.81 L439.0,121.00 L439.5,119.16 L440.0,121.00 L440.5,120.29 L441.0,120.00 L441.5,120.29 L442.0,120.48 L442.5,120.60 L443.0,121.00 L443.5,120.39 L444.0,121.00 L444.5,120.47 L445.0,120.51 L445.5,121.00 L446.0,119.73 L446.5,120.01 L447.0,119.60 L447.5,119.10 L448.0,120.33 L448.5,121.00 L449.0,121.00 L449.5,119.51 L450.0,121.00 L450.5,121.00 L451.0,119.86 L451.5,120.29 L452.0,120.00 L452.5,119.22 L453.0,121.00 L453.5,120.06 L454.0,119.99 L454.5,119.01 L455.0,119.60 L455.5,121.00 L456.0,120.04 L456.5,120.37 L457.0,119.79 L457.5,120.56 L458.0,121.00 L458.5,120.16 L459.0,110.23 L459.5,105.80 L460.0,110.23 L460.5,118.61 L461.0,119.16 L461.5,120.59 L462.0,120.60 L462.5,120.39 L463.0,120.27 L463.5,120.51 L464.0,120.47 L464.5,120.01 L465.0,119.60 L465.5,120.01 L466.0,119.32 L466.5,121.00 L467.0,119.09 L467.5,121.00 L468.0,121.00 L468.5,121.00 L469.0,120.54 L469.5,120.29 L470.0,119.30 L470.5,119.19 L471.0,121.00 L471.5,119.50 L472.0,120.26 L472.5,119.62 L473.0,120.46 L473.5,120.60 L474.0,120.60 L474.5,120.41 L475.0,120.26 L475.5,120.51 L476.0,120.42 L476.5,119.21 L477.0,121.00 L477.5,119.90 L478.0,120.50 L478.5,120.49 L479.0,120.27 L479.5,120.52 L480.0,116.25 L480.5,115.16 L481.0,119.01 L481.5,119.44 L482.0,111.02 L482.5,112.87 L483.0,117.53 L483.5,117.35 L484.0,118.22 L484.5,120.33 L485.0,120.59 L485.5,120.59 L486.0,119.05 L486.5,118.50 L487.0,119.05 L487.5,121.00 L488.0,120.43 L488.5,120.29 L489.0,120.00 L489.5,120.29 L490.0,120.19 L490.5,120.33 L491.0,120.59 L491.5,121.00 L492.0,120.78 L492.5,121.00 L493.0,120.11 L493.5,121.00 L494.0,121.00 L494.5,121.00 L495.0,120.49 L495.5,120.53 L496.0,120.22 L496.0,121.0 Z" fill="#463a80"/>
<line x1="485.00" y1="121.00" x2="485.00" y2="98.20" stroke="#8c85c4" stroke-width="0.7"/>
<line x1="201.00" y1="120.80" x2="511.00" y2="120.80" stroke="#a09ace" stroke-width="0.8" stroke-dasharray="1.2,1.8"/>
<line x1="331.00" y1="98.00" x2="476.80" y2="98.00" stroke="#6d6d6d" stroke-width="1.6"/>
<path d="M326.4,98.0 L333.9,95.0 L331.65,98.0 L333.9,101.0 Z" fill="#231f20"/>
<text x="378.50" y="108.60" font-size="8.3" textLength="53" lengthAdjust="spacingAndGlyphs">Super Enhancer</text>
<line x1="199.30" y1="128.45" x2="512.70" y2="128.45" stroke="#2e2e2e" stroke-width="0.95"/>
<line x1="199.30" y1="130.40" x2="512.70" y2="130.40" stroke="#2e2e2e" stroke-width="0.95"/>
<line x1="203.00" y1="134.40" x2="482.50" y2="134.40" stroke="#9c9ad6" stroke-width="0.8"/>
<circle cx="208.5" cy="134.4" r="1.1" fill="#2b2480"/>
<rect x="213.00" y="133.20" width="4.70" height="2.40" fill="#2b2480"/>
<line x1="223.80" y1="133.20" x2="223.80" y2="135.60" stroke="#7a7ac0" stroke-width="0.6"/>
<line x1="235.00" y1="133.20" x2="235.00" y2="135.60" stroke="#7a7ac0" stroke-width="0.6"/>
<line x1="247.70" y1="133.20" x2="247.70" y2="135.60" stroke="#7a7ac0" stroke-width="0.6"/>
<line x1="260.80" y1="133.20" x2="260.80" y2="135.60" stroke="#7a7ac0" stroke-width="0.6"/>
<line x1="274.00" y1="133.20" x2="274.00" y2="135.60" stroke="#7a7ac0" stroke-width="0.6"/>
<line x1="287.00" y1="133.20" x2="287.00" y2="135.60" stroke="#7a7ac0" stroke-width="0.6"/>
<line x1="300.00" y1="133.20" x2="300.00" y2="135.60" stroke="#7a7ac0" stroke-width="0.6"/>
<line x1="328.00" y1="133.20" x2="328.00" y2="135.60" stroke="#7a7ac0" stroke-width="0.6"/>
<line x1="340.00" y1="133.20" x2="340.00" y2="135.60" stroke="#7a7ac0" stroke-width="0.6"/>
<line x1="352.00" y1="133.20" x2="352.00" y2="135.60" stroke="#7a7ac0" stroke-width="0.6"/>
<line x1="364.00" y1="133.20" x2="364.00" y2="135.60" stroke="#7a7ac0" stroke-width="0.6"/>
<line x1="376.00" y1="133.20" x2="376.00" y2="135.60" stroke="#7a7ac0" stroke-width="0.6"/>
<line x1="388.00" y1="133.20" x2="388.00" y2="135.60" stroke="#7a7ac0" stroke-width="0.6"/>
<line x1="400.00" y1="133.20" x2="400.00" y2="135.60" stroke="#7a7ac0" stroke-width="0.6"/>
<line x1="412.00" y1="133.20" x2="412.00" y2="135.60" stroke="#7a7ac0" stroke-width="0.6"/>
<line x1="424.00" y1="133.20" x2="424.00" y2="135.60" stroke="#7a7ac0" stroke-width="0.6"/>
<line x1="436.00" y1="133.20" x2="436.00" y2="135.60" stroke="#7a7ac0" stroke-width="0.6"/>
<line x1="448.00" y1="133.20" x2="448.00" y2="135.60" stroke="#7a7ac0" stroke-width="0.6"/>
<line x1="460.00" y1="133.20" x2="460.00" y2="135.60" stroke="#7a7ac0" stroke-width="0.6"/>
<circle cx="316" cy="134.4" r="0.9" fill="#2b2480"/>
<circle cx="471.5" cy="134.4" r="1.1" fill="#2b2480"/>
<line x1="482.50" y1="132.40" x2="482.50" y2="136.40" stroke="#6b6bb8" stroke-width="0.8"/>
<line x1="216.00" y1="139.80" x2="482.50" y2="139.80" stroke="#7a7a7a" stroke-width="1.6"/>
<path d="M212.4,139.8 L220.20000000000002,136.3 L217.86,139.8 L220.20000000000002,143.3 Z" fill="#231f20"/>
<line x1="316.50" y1="158.00" x2="316.50" y2="166.20" stroke="#231f20" stroke-width="1.4"/>
<path d="M316.5,152.8 L312.1,161.8 L316.5,159.10000000000002 L320.9,161.8 Z" fill="#231f20"/>
<line x1="342.10" y1="158.00" x2="342.10" y2="166.20" stroke="#231f20" stroke-width="1.4"/>
<path d="M342.1,152.8 L337.70000000000005,161.8 L342.1,159.10000000000002 L346.5,161.8 Z" fill="#231f20"/>
<line x1="461.00" y1="158.00" x2="461.00" y2="166.20" stroke="#231f20" stroke-width="1.4"/>
<path d="M461,152.8 L456.6,161.8 L461,159.10000000000002 L465.4,161.8 Z" fill="#231f20"/>
<line x1="487.70" y1="158.00" x2="487.70" y2="166.20" stroke="#231f20" stroke-width="1.4"/>
<path d="M487.7,152.8 L483.3,161.8 L487.7,159.10000000000002 L492.09999999999997,161.8 Z" fill="#231f20"/>
<text x="316.40" y="176.90" font-size="8.0" text-anchor="middle" textLength="8.5" lengthAdjust="spacingAndGlyphs">P2</text>
<text x="316.40" y="186.60" font-size="8.0" text-anchor="middle" textLength="31.1" lengthAdjust="spacingAndGlyphs">Promoter</text>
<text x="359.40" y="176.90" font-size="8.0" text-anchor="middle" textLength="39.6" lengthAdjust="spacingAndGlyphs">P2 Proximal</text>
<text x="359.40" y="186.60" font-size="8.0" text-anchor="middle" textLength="30.8" lengthAdjust="spacingAndGlyphs">enhancer</text>
<text x="453.30" y="176.90" font-size="8.0" text-anchor="middle" textLength="23.7" lengthAdjust="spacingAndGlyphs">+24 kb</text>
<text x="453.20" y="186.60" font-size="8.0" text-anchor="middle" textLength="31.7" lengthAdjust="spacingAndGlyphs">enhancer</text>
<text x="492.30" y="176.90" font-size="8.0" text-anchor="middle" textLength="29.7" lengthAdjust="spacingAndGlyphs">P1 Distal</text>
<text x="492.30" y="186.60" font-size="8.0" text-anchor="middle" textLength="31.3" lengthAdjust="spacingAndGlyphs">Promoter</text>
<text x="7.60" y="195.00" font-size="10.5">B</text>
<line x1="74.50" y1="204.20" x2="74.50" y2="285.60" stroke="#231f20" stroke-width="1.2"/>
<line x1="74.50" y1="288.60" x2="74.50" y2="301.90" stroke="#231f20" stroke-width="1.2"/>
<line x1="74.50" y1="304.40" x2="74.50" y2="312.90" stroke="#231f20" stroke-width="1.2"/>
<line x1="71.30" y1="285.60" x2="77.70" y2="285.60" stroke="#231f20" stroke-width="1.0"/>
<line x1="71.30" y1="288.60" x2="77.70" y2="288.60" stroke="#231f20" stroke-width="1.0"/>
<line x1="71.30" y1="301.90" x2="77.70" y2="301.90" stroke="#231f20" stroke-width="1.0"/>
<line x1="71.30" y1="304.40" x2="77.70" y2="304.40" stroke="#231f20" stroke-width="1.0"/>
<line x1="71.40" y1="212.90" x2="74.50" y2="212.90" stroke="#231f20" stroke-width="1.0"/>
<text x="68.80" y="215.50" font-size="7.4" text-anchor="end" textLength="32.7" lengthAdjust="spacingAndGlyphs">1,000,000</text>
<line x1="71.40" y1="234.20" x2="74.50" y2="234.20" stroke="#231f20" stroke-width="1.0"/>
<text x="68.80" y="236.80" font-size="7.4" text-anchor="end" textLength="26.0" lengthAdjust="spacingAndGlyphs">750,000</text>
<line x1="71.40" y1="255.50" x2="74.50" y2="255.50" stroke="#231f20" stroke-width="1.0"/>
<text x="68.80" y="258.10" font-size="7.4" text-anchor="end" textLength="26.0" lengthAdjust="spacingAndGlyphs">500,000</text>
<line x1="71.40" y1="277.20" x2="74.50" y2="277.20" stroke="#231f20" stroke-width="1.0"/>
<text x="68.80" y="279.80" font-size="7.4" text-anchor="end" textLength="26.0" lengthAdjust="spacingAndGlyphs">250,000</text>
<text x="68.80" y="298.30" font-size="7.4" text-anchor="end" textLength="18.3" lengthAdjust="spacingAndGlyphs">5,000</text>
<line x1="71.40" y1="312.40" x2="74.50" y2="312.40" stroke="#231f20" stroke-width="1.0"/>
<text x="68.80" y="315.00" font-size="7.4" text-anchor="end" textLength="3.6" lengthAdjust="spacingAndGlyphs">0</text>
<line x1="74.50" y1="312.40" x2="213.20" y2="312.40" stroke="#231f20" stroke-width="1.2"/>
<line x1="145.60" y1="312.40" x2="145.60" y2="315.20" stroke="#231f20" stroke-width="0.9"/>
<text x="27.10" y="258.30" font-size="8.3" text-anchor="middle" textLength="55" lengthAdjust="spacingAndGlyphs" transform="rotate(-90 27.10 258.30)">luminescence</text>
<text x="85.20" y="325.90" font-size="8.5" textLength="121" lengthAdjust="spacingAndGlyphs">Runx1 Promoter/Enhancer Reporter</text>
<rect x="90.30" y="311.00" width="18.80" height="1.40" fill="#a03543"/>
<line x1="99.70" y1="311.00" x2="99.70" y2="308.50" stroke="#3a3a3a" stroke-width="1.0"/>
<line x1="95.10" y1="308.50" x2="104.30" y2="308.50" stroke="#3a3a3a" stroke-width="1.0"/>
<rect x="121.20" y="268.30" width="18.90" height="17.40" fill="#4e6282"/>
<rect x="121.50" y="268.60" width="18.30" height="16.80" fill="none" stroke="#3f506a" stroke-width="0.6"/>
<rect x="121.20" y="288.90" width="18.90" height="13.30" fill="#4e6282"/>
<rect x="121.50" y="289.20" width="18.30" height="12.70" fill="none" stroke="#3f506a" stroke-width="0.6"/>
<rect x="121.20" y="304.60" width="18.90" height="7.80" fill="#4e6282"/>
<rect x="121.50" y="304.90" width="18.30" height="7.20" fill="none" stroke="#3f506a" stroke-width="0.6"/>
<line x1="130.30" y1="268.30" x2="130.30" y2="259.50" stroke="#333" stroke-width="1.0"/>
<line x1="125.60" y1="259.50" x2="135.00" y2="259.50" stroke="#333" stroke-width="1.0"/>
<rect x="151.40" y="296.80" width="19.10" height="5.40" fill="#7aa95c"/>
<rect x="151.70" y="297.10" width="18.50" height="4.80" fill="none" stroke="#648a4b" stroke-width="0.6"/>
<rect x="151.40" y="304.60" width="19.10" height="7.80" fill="#7aa95c"/>
<rect x="151.70" y="304.90" width="18.50" height="7.20" fill="none" stroke="#648a4b" stroke-width="0.6"/>
<line x1="160.95" y1="296.80" x2="160.95" y2="294.70" stroke="#444" stroke-width="1.0"/>
<line x1="156.95" y1="294.70" x2="164.95" y2="294.70" stroke="#444" stroke-width="1.0"/>
<rect x="181.30" y="218.50" width="20.00" height="67.20" fill="#6c4a6b"/>
<rect x="181.60" y="218.80" width="19.40" height="66.60" fill="none" stroke="#583c57" stroke-width="0.6"/>
<rect x="181.30" y="288.90" width="20.00" height="13.30" fill="#6c4a6b"/>
<rect x="181.60" y="289.20" width="19.40" height="12.70" fill="none" stroke="#583c57" stroke-width="0.6"/>
<rect x="181.30" y="304.60" width="20.00" height="7.80" fill="#6c4a6b"/>
<rect x="181.60" y="304.90" width="19.40" height="7.20" fill="none" stroke="#583c57" stroke-width="0.6"/>
<line x1="191.10" y1="218.30" x2="191.10" y2="215.80" stroke="#3a3a3a" stroke-width="1.0"/>
<line x1="186.10" y1="215.80" x2="196.10" y2="215.80" stroke="#3a3a3a" stroke-width="1.0"/>
<text x="191.10" y="215.30" font-size="6" text-anchor="middle">*</text>
<rect x="80.80" y="204.40" width="10.00" height="3.60" fill="#a03543"/>
<rect x="80.80" y="215.90" width="10.00" height="3.60" fill="#4e6282"/>
<rect x="80.80" y="227.10" width="10.00" height="3.60" fill="#7aa95c"/>
<rect x="80.80" y="243.20" width="10.00" height="3.60" fill="#6c4a6b"/>
<text x="93.90" y="209.00" font-size="7.8" textLength="23.4" lengthAdjust="spacingAndGlyphs">Control</text>
<text x="93.90" y="220.30" font-size="7.8" textLength="55.2" lengthAdjust="spacingAndGlyphs">P2 Promoter Only</text>
<text x="93.90" y="231.70" font-size="7.8" textLength="69.2" lengthAdjust="spacingAndGlyphs">+24 kb Enhancer Only</text>
<text x="93.90" y="242.40" font-size="7.8" textLength="52.5" lengthAdjust="spacingAndGlyphs">P2 Promoter and</text>
<text x="93.90" y="252.40" font-size="7.8" textLength="53.1" lengthAdjust="spacingAndGlyphs">+24 kb Enhancer</text>
<text x="7.50" y="343.90" font-size="10.5">C</text>
<text x="106.30" y="355.20" font-size="9.4" textLength="141.5" lengthAdjust="spacingAndGlyphs">OCI-AML5 RUNX1 +24 kb enhancer</text>
<line x1="56.00" y1="380.60" x2="56.00" y2="402.10" stroke="#231f20" stroke-width="1.2"/>
<line x1="56.00" y1="410.40" x2="56.00" y2="430.00" stroke="#231f20" stroke-width="1.2"/>
<line x1="56.00" y1="437.90" x2="56.00" y2="481.70" stroke="#231f20" stroke-width="1.2"/>
<line x1="53.60" y1="402.10" x2="59.20" y2="402.10" stroke="#231f20" stroke-width="1.0"/>
<line x1="53.60" y1="410.40" x2="59.20" y2="410.40" stroke="#231f20" stroke-width="1.0"/>
<line x1="53.60" y1="430.00" x2="59.20" y2="430.00" stroke="#231f20" stroke-width="1.0"/>
<line x1="53.60" y1="437.90" x2="59.20" y2="437.90" stroke="#231f20" stroke-width="1.0"/>
<line x1="52.80" y1="383.50" x2="56.00" y2="383.50" stroke="#231f20" stroke-width="1.0"/>
<text x="50.10" y="386.10" font-size="7.8" text-anchor="end" textLength="14.2" lengthAdjust="spacingAndGlyphs">0.15</text>
<line x1="52.80" y1="392.30" x2="56.00" y2="392.30" stroke="#231f20" stroke-width="1.0"/>
<text x="50.10" y="394.90" font-size="7.8" text-anchor="end" textLength="14.2" lengthAdjust="spacingAndGlyphs">0.10</text>
<line x1="52.80" y1="400.80" x2="56.00" y2="400.80" stroke="#231f20" stroke-width="1.0"/>
<text x="50.10" y="403.40" font-size="7.8" text-anchor="end" textLength="14.2" lengthAdjust="spacingAndGlyphs">0.05</text>
<line x1="52.80" y1="410.40" x2="56.00" y2="410.40" stroke="#231f20" stroke-width="1.0"/>
<text x="50.10" y="413.00" font-size="7.8" text-anchor="end" textLength="18.4" lengthAdjust="spacingAndGlyphs">0.025</text>
<line x1="52.80" y1="426.90" x2="56.00" y2="426.90" stroke="#231f20" stroke-width="1.0"/>
<text x="50.10" y="429.50" font-size="7.8" text-anchor="end" textLength="18.4" lengthAdjust="spacingAndGlyphs">0.015</text>
<line x1="52.80" y1="448.30" x2="56.00" y2="448.30" stroke="#231f20" stroke-width="1.0"/>
<text x="50.10" y="450.90" font-size="7.8" text-anchor="end" textLength="18.4" lengthAdjust="spacingAndGlyphs">0.010</text>
<line x1="52.80" y1="465.10" x2="56.00" y2="465.10" stroke="#231f20" stroke-width="1.0"/>
<text x="50.10" y="467.70" font-size="7.8" text-anchor="end" textLength="18.4" lengthAdjust="spacingAndGlyphs">0.005</text>
<line x1="52.80" y1="481.20" x2="56.00" y2="481.20" stroke="#231f20" stroke-width="1.0"/>
<text x="50.10" y="483.80" font-size="7.8" text-anchor="end" textLength="18.4" lengthAdjust="spacingAndGlyphs">0.000</text>
<line x1="56.00" y1="481.20" x2="298.60" y2="481.20" stroke="#231f20" stroke-width="1.2"/>
<text x="23.70" y="431.50" font-size="8.3" text-anchor="middle" textLength="42" lengthAdjust="spacingAndGlyphs" transform="rotate(-90 23.70 431.50)">% of input</text>
<rect x="62.80" y="397.90" width="7.30" height="4.20" fill="#4e6282"/>
<rect x="63.10" y="398.20" width="6.70" height="3.60" fill="none" stroke="#3f506a" stroke-width="0.6"/>
<rect x="62.80" y="410.60" width="7.30" height="19.40" fill="#4e6282"/>
<rect x="63.10" y="410.90" width="6.70" height="18.80" fill="none" stroke="#3f506a" stroke-width="0.6"/>
<rect x="62.80" y="437.90" width="7.30" height="43.30" fill="#4e6282"/>
<rect x="63.10" y="438.20" width="6.70" height="42.70" fill="none" stroke="#3f506a" stroke-width="0.6"/>
<line x1="66.45" y1="397.90" x2="66.45" y2="391.20" stroke="#4e6282" stroke-width="1.0"/>
<line x1="64.65" y1="391.20" x2="68.25" y2="391.20" stroke="#4e6282" stroke-width="1.0"/>
<rect x="76.90" y="477.20" width="7.30" height="4.00" fill="#4e6282"/>
<rect x="77.20" y="477.50" width="6.70" height="3.40" fill="none" stroke="#3f506a" stroke-width="0.6"/>
<line x1="80.55" y1="477.20" x2="80.55" y2="472.30" stroke="#4e6282" stroke-width="1.0"/>
<line x1="78.75" y1="472.30" x2="82.35" y2="472.30" stroke="#4e6282" stroke-width="1.0"/>
<rect x="90.70" y="465.60" width="7.30" height="15.60" fill="#4e6282"/>
<rect x="91.00" y="465.90" width="6.70" height="15.00" fill="none" stroke="#3f506a" stroke-width="0.6"/>
<line x1="94.35" y1="465.60" x2="94.35" y2="451.00" stroke="#4e6282" stroke-width="1.0"/>
<line x1="92.55" y1="451.00" x2="96.15" y2="451.00" stroke="#4e6282" stroke-width="1.0"/>
<rect x="112.00" y="448.00" width="7.30" height="33.20" fill="#a03543"/>
<rect x="112.30" y="448.30" width="6.70" height="32.60" fill="none" stroke="#832b36" stroke-width="0.6"/>
<line x1="115.65" y1="448.00" x2="115.65" y2="439.40" stroke="#a03543" stroke-width="1.0"/>
<line x1="113.85" y1="439.40" x2="117.45" y2="439.40" stroke="#a03543" stroke-width="1.0"/>
<rect x="125.70" y="467.00" width="7.30" height="14.20" fill="#a03543"/>
<rect x="126.00" y="467.30" width="6.70" height="13.60" fill="none" stroke="#832b36" stroke-width="0.6"/>
<line x1="129.35" y1="467.00" x2="129.35" y2="454.80" stroke="#a03543" stroke-width="1.0"/>
<line x1="127.55" y1="454.80" x2="131.15" y2="454.80" stroke="#a03543" stroke-width="1.0"/>
<rect x="139.90" y="480.70" width="7.30" height="0.50" fill="#a03543"/>
<rect x="161.00" y="469.80" width="7.30" height="11.40" fill="#7aa95c"/>
<rect x="161.30" y="470.10" width="6.70" height="10.80" fill="none" stroke="#648a4b" stroke-width="0.6"/>
<line x1="164.65" y1="469.80" x2="164.65" y2="464.00" stroke="#7aa95c" stroke-width="1.0"/>
<line x1="162.85" y1="464.00" x2="166.45" y2="464.00" stroke="#7aa95c" stroke-width="1.0"/>
<rect x="175.00" y="480.90" width="7.30" height="0.30" fill="#7aa95c"/>
<rect x="188.40" y="479.00" width="7.30" height="2.20" fill="#7aa95c"/>
<rect x="188.70" y="479.30" width="6.70" height="1.60" fill="none" stroke="#648a4b" stroke-width="0.6"/>
<line x1="192.05" y1="479.00" x2="192.05" y2="478.30" stroke="#7aa95c" stroke-width="1.0"/>
<line x1="190.25" y1="478.30" x2="193.85" y2="478.30" stroke="#7aa95c" stroke-width="1.0"/>
<rect x="209.40" y="400.30" width="7.30" height="1.80" fill="#6c4a6b"/>
<rect x="209.70" y="400.60" width="6.70" height="1.20" fill="none" stroke="#583c57" stroke-width="0.6"/>
<rect x="209.40" y="410.60" width="7.30" height="19.40" fill="#6c4a6b"/>
<rect x="209.70" y="410.90" width="6.70" height="18.80" fill="none" stroke="#583c57" stroke-width="0.6"/>
<rect x="209.40" y="437.90" width="7.30" height="43.30" fill="#6c4a6b"/>
<rect x="209.70" y="438.20" width="6.70" height="42.70" fill="none" stroke="#583c57" stroke-width="0.6"/>
<line x1="213.05" y1="400.30" x2="213.05" y2="396.00" stroke="#6c4a6b" stroke-width="1.0"/>
<line x1="211.25" y1="396.00" x2="214.85" y2="396.00" stroke="#6c4a6b" stroke-width="1.0"/>
<rect x="223.50" y="464.60" width="7.30" height="16.60" fill="#6c4a6b"/>
<rect x="223.80" y="464.90" width="6.70" height="16.00" fill="none" stroke="#583c57" stroke-width="0.6"/>
<line x1="227.15" y1="464.60" x2="227.15" y2="454.80" stroke="#6c4a6b" stroke-width="1.0"/>
<line x1="225.35" y1="454.80" x2="228.95" y2="454.80" stroke="#6c4a6b" stroke-width="1.0"/>
<rect x="237.60" y="466.20" width="7.30" height="15.00" fill="#6c4a6b"/>
<rect x="237.90" y="466.50" width="6.70" height="14.40" fill="none" stroke="#583c57" stroke-width="0.6"/>
<line x1="241.25" y1="466.20" x2="241.25" y2="460.60" stroke="#6c4a6b" stroke-width="1.0"/>
<line x1="239.45" y1="460.60" x2="243.05" y2="460.60" stroke="#6c4a6b" stroke-width="1.0"/>
<rect x="258.50" y="427.70" width="7.30" height="2.30" fill="#d5953d"/>
<rect x="258.80" y="428.00" width="6.70" height="1.70" fill="none" stroke="#ae7a32" stroke-width="0.6"/>
<rect x="258.50" y="437.90" width="7.30" height="43.30" fill="#d5953d"/>
<rect x="258.80" y="438.20" width="6.70" height="42.70" fill="none" stroke="#ae7a32" stroke-width="0.6"/>
<line x1="262.15" y1="427.70" x2="262.15" y2="418.50" stroke="#d5953d" stroke-width="1.0"/>
<line x1="260.35" y1="418.50" x2="263.95" y2="418.50" stroke="#d5953d" stroke-width="1.0"/>
<rect x="272.60" y="478.50" width="7.30" height="2.70" fill="#d5953d"/>
<rect x="272.90" y="478.80" width="6.70" height="2.10" fill="none" stroke="#ae7a32" stroke-width="0.6"/>
<line x1="276.25" y1="478.50" x2="276.25" y2="477.80" stroke="#d5953d" stroke-width="1.0"/>
<line x1="274.45" y1="477.80" x2="278.05" y2="477.80" stroke="#d5953d" stroke-width="1.0"/>
<rect x="286.60" y="480.50" width="7.30" height="0.70" fill="#d5953d"/>
<line x1="66.45" y1="481.20" x2="66.45" y2="484.00" stroke="#231f20" stroke-width="0.9"/>
<text x="68.25" y="492.20" font-size="8.0" text-anchor="end" textLength="24.5" lengthAdjust="spacingAndGlyphs" transform="rotate(-45 68.25 492.20)">Control</text>
<line x1="80.45" y1="481.20" x2="80.45" y2="484.00" stroke="#231f20" stroke-width="0.9"/>
<text x="82.25" y="492.20" font-size="8.0" text-anchor="end" textLength="23.5" lengthAdjust="spacingAndGlyphs" transform="rotate(-45 82.25 492.20)">OTX015</text>
<line x1="94.35" y1="481.20" x2="94.35" y2="484.00" stroke="#231f20" stroke-width="0.9"/>
<text x="96.15" y="492.20" font-size="8.0" text-anchor="end" textLength="24.5" lengthAdjust="spacingAndGlyphs" transform="rotate(-45 96.15 492.20)">ARV-771</text>
<line x1="115.65" y1="481.20" x2="115.65" y2="484.00" stroke="#231f20" stroke-width="0.9"/>
<text x="117.45" y="492.20" font-size="8.0" text-anchor="end" textLength="24.5" lengthAdjust="spacingAndGlyphs" transform="rotate(-45 117.45 492.20)">Control</text>
<line x1="129.65" y1="481.20" x2="129.65" y2="484.00" stroke="#231f20" stroke-width="0.9"/>
<text x="131.45" y="492.20" font-size="8.0" text-anchor="end" textLength="23.5" lengthAdjust="spacingAndGlyphs" transform="rotate(-45 131.45 492.20)">OTX015</text>
<line x1="143.55" y1="481.20" x2="143.55" y2="484.00" stroke="#231f20" stroke-width="0.9"/>
<text x="145.35" y="492.20" font-size="8.0" text-anchor="end" textLength="24.5" lengthAdjust="spacingAndGlyphs" transform="rotate(-45 145.35 492.20)">ARV-771</text>
<line x1="164.95" y1="481.20" x2="164.95" y2="484.00" stroke="#231f20" stroke-width="0.9"/>
<text x="166.75" y="492.20" font-size="8.0" text-anchor="end" textLength="24.5" lengthAdjust="spacingAndGlyphs" transform="rotate(-45 166.75 492.20)">Control</text>
<line x1="178.95" y1="481.20" x2="178.95" y2="484.00" stroke="#231f20" stroke-width="0.9"/>
<text x="180.75" y="492.20" font-size="8.0" text-anchor="end" textLength="23.5" lengthAdjust="spacingAndGlyphs" transform="rotate(-45 180.75 492.20)">OTX015</text>
<line x1="192.85" y1="481.20" x2="192.85" y2="484.00" stroke="#231f20" stroke-width="0.9"/>
<text x="194.65" y="492.20" font-size="8.0" text-anchor="end" textLength="24.5" lengthAdjust="spacingAndGlyphs" transform="rotate(-45 194.65 492.20)">ARV-771</text>
<line x1="213.05" y1="481.20" x2="213.05" y2="484.00" stroke="#231f20" stroke-width="0.9"/>
<text x="214.85" y="492.20" font-size="8.0" text-anchor="end" textLength="24.5" lengthAdjust="spacingAndGlyphs" transform="rotate(-45 214.85 492.20)">Control</text>
<line x1="227.05" y1="481.20" x2="227.05" y2="484.00" stroke="#231f20" stroke-width="0.9"/>
<text x="228.85" y="492.20" font-size="8.0" text-anchor="end" textLength="23.5" lengthAdjust="spacingAndGlyphs" transform="rotate(-45 228.85 492.20)">OTX015</text>
<line x1="240.95" y1="481.20" x2="240.95" y2="484.00" stroke="#231f20" stroke-width="0.9"/>
<text x="242.75" y="492.20" font-size="8.0" text-anchor="end" textLength="24.5" lengthAdjust="spacingAndGlyphs" transform="rotate(-45 242.75 492.20)">ARV-771</text>
<line x1="262.25" y1="481.20" x2="262.25" y2="484.00" stroke="#231f20" stroke-width="0.9"/>
<text x="264.05" y="492.20" font-size="8.0" text-anchor="end" textLength="24.5" lengthAdjust="spacingAndGlyphs" transform="rotate(-45 264.05 492.20)">Control</text>
<line x1="276.25" y1="481.20" x2="276.25" y2="484.00" stroke="#231f20" stroke-width="0.9"/>
<text x="278.05" y="492.20" font-size="8.0" text-anchor="end" textLength="23.5" lengthAdjust="spacingAndGlyphs" transform="rotate(-45 278.05 492.20)">OTX015</text>
<line x1="290.15" y1="481.20" x2="290.15" y2="484.00" stroke="#231f20" stroke-width="0.9"/>
<text x="291.95" y="492.20" font-size="8.0" text-anchor="end" textLength="24.5" lengthAdjust="spacingAndGlyphs" transform="rotate(-45 291.95 492.20)">ARV-771</text>
<rect x="227.70" y="361.70" width="12.00" height="6.00" fill="#4e6282"/>
<text x="242.70" y="367.30" font-size="7.4" textLength="17.8" lengthAdjust="spacingAndGlyphs">BRD4</text>
<rect x="227.70" y="373.30" width="12.00" height="6.00" fill="#a03543"/>
<text x="242.70" y="378.90" font-size="7.4" textLength="16.2" lengthAdjust="spacingAndGlyphs">p300</text>
<rect x="227.70" y="384.80" width="12.00" height="6.00" fill="#7aa95c"/>
<text x="242.70" y="390.40" font-size="7.4" textLength="19.2" lengthAdjust="spacingAndGlyphs">c-Myc</text>
<rect x="227.70" y="395.90" width="12.00" height="6.00" fill="#6c4a6b"/>
<text x="242.70" y="401.50" font-size="7.4" textLength="13.9" lengthAdjust="spacingAndGlyphs">PU.1</text>
<rect x="227.70" y="407.00" width="12.00" height="6.00" fill="#d5953d"/>
<text x="242.70" y="412.60" font-size="7.4" textLength="30.7" lengthAdjust="spacingAndGlyphs">p-RNAP2</text>
<text x="7.50" y="528.00" font-size="10.5">D</text>
<text x="136.60" y="542.00" font-size="9.4" textLength="41" lengthAdjust="spacingAndGlyphs">OCI-AML5</text>
<line x1="74.50" y1="549.00" x2="74.50" y2="606.10" stroke="#231f20" stroke-width="1.2"/>
<line x1="74.50" y1="615.00" x2="74.50" y2="680.90" stroke="#231f20" stroke-width="1.2"/>
<line x1="71.30" y1="606.10" x2="77.80" y2="606.10" stroke="#231f20" stroke-width="1.0"/>
<line x1="71.30" y1="615.00" x2="77.80" y2="615.00" stroke="#231f20" stroke-width="1.0"/>
<line x1="71.60" y1="549.50" x2="74.50" y2="549.50" stroke="#231f20" stroke-width="1.0"/>
<text x="68.90" y="552.20" font-size="7.7" text-anchor="end" textLength="4.2" lengthAdjust="spacingAndGlyphs">8</text>
<line x1="71.60" y1="559.20" x2="74.50" y2="559.20" stroke="#231f20" stroke-width="1.0"/>
<text x="68.90" y="561.90" font-size="7.7" text-anchor="end" textLength="4.2" lengthAdjust="spacingAndGlyphs">7</text>
<line x1="71.60" y1="569.00" x2="74.50" y2="569.00" stroke="#231f20" stroke-width="1.0"/>
<text x="68.90" y="571.70" font-size="7.7" text-anchor="end" textLength="4.2" lengthAdjust="spacingAndGlyphs">6</text>
<line x1="71.60" y1="578.30" x2="74.50" y2="578.30" stroke="#231f20" stroke-width="1.0"/>
<text x="68.90" y="581.00" font-size="7.7" text-anchor="end" textLength="4.2" lengthAdjust="spacingAndGlyphs">5</text>
<line x1="71.60" y1="587.50" x2="74.50" y2="587.50" stroke="#231f20" stroke-width="1.0"/>
<text x="68.90" y="590.20" font-size="7.7" text-anchor="end" textLength="4.2" lengthAdjust="spacingAndGlyphs">4</text>
<line x1="71.60" y1="596.80" x2="74.50" y2="596.80" stroke="#231f20" stroke-width="1.0"/>
<text x="68.90" y="599.50" font-size="7.7" text-anchor="end" textLength="4.2" lengthAdjust="spacingAndGlyphs">3</text>
<line x1="71.60" y1="606.10" x2="74.50" y2="606.10" stroke="#231f20" stroke-width="1.0"/>
<text x="68.90" y="608.80" font-size="7.7" text-anchor="end" textLength="4.2" lengthAdjust="spacingAndGlyphs">2</text>
<line x1="71.60" y1="615.00" x2="74.50" y2="615.00" stroke="#231f20" stroke-width="1.0"/>
<text x="68.90" y="617.70" font-size="7.7" text-anchor="end" textLength="15.0" lengthAdjust="spacingAndGlyphs">0.50</text>
<line x1="71.60" y1="647.80" x2="74.50" y2="647.80" stroke="#231f20" stroke-width="1.0"/>
<text x="68.90" y="650.50" font-size="7.7" text-anchor="end" textLength="15.0" lengthAdjust="spacingAndGlyphs">0.25</text>
<line x1="71.60" y1="680.40" x2="74.50" y2="680.40" stroke="#231f20" stroke-width="1.0"/>
<text x="68.90" y="683.10" font-size="7.7" text-anchor="end" textLength="15.0" lengthAdjust="spacingAndGlyphs">0.00</text>
<line x1="74.50" y1="680.40" x2="240.00" y2="680.40" stroke="#231f20" stroke-width="1.2"/>
<line x1="116.20" y1="680.40" x2="116.20" y2="683.20" stroke="#231f20" stroke-width="0.9"/>
<line x1="198.30" y1="680.40" x2="198.30" y2="683.20" stroke="#231f20" stroke-width="0.9"/>
<text x="48.30" y="613.70" font-size="8.3" text-anchor="middle" textLength="150.7" lengthAdjust="spacingAndGlyphs" transform="rotate(-90 48.30 613.70)">mRNA expression (relative to control)</text>
<rect x="84.40" y="649.00" width="10.20" height="31.40" fill="#7aa95c"/>
<rect x="84.70" y="649.30" width="9.60" height="30.80" fill="none" stroke="#648a4b" stroke-width="0.6"/>
<line x1="89.50" y1="649.00" x2="89.50" y2="643.20" stroke="#444" stroke-width="1.0"/>
<line x1="86.70" y1="643.20" x2="92.30" y2="643.20" stroke="#444" stroke-width="1.0"/>
<rect x="101.50" y="679.00" width="10.20" height="1.40" fill="#a03543"/>
<line x1="106.60" y1="679.00" x2="106.60" y2="678.20" stroke="#555" stroke-width="1.0"/>
<line x1="103.80" y1="678.20" x2="109.40" y2="678.20" stroke="#555" stroke-width="1.0"/>
<rect x="119.80" y="555.50" width="10.20" height="50.60" fill="#4e6282"/>
<rect x="120.10" y="555.80" width="9.60" height="50.00" fill="none" stroke="#3f506a" stroke-width="0.6"/>
<rect x="119.80" y="615.00" width="10.20" height="65.40" fill="#4e6282"/>
<rect x="120.10" y="615.30" width="9.60" height="64.80" fill="none" stroke="#3f506a" stroke-width="0.6"/>
<line x1="124.90" y1="555.50" x2="124.90" y2="555.30" stroke="#333" stroke-width="1.0"/>
<line x1="122.10" y1="555.30" x2="127.70" y2="555.30" stroke="#333" stroke-width="1.0"/>
<rect x="166.70" y="638.70" width="10.20" height="41.70" fill="#7aa95c"/>
<rect x="167.00" y="639.00" width="9.60" height="41.10" fill="none" stroke="#648a4b" stroke-width="0.6"/>
<line x1="171.80" y1="638.70" x2="171.80" y2="632.50" stroke="#444" stroke-width="1.0"/>
<line x1="169.00" y1="632.50" x2="174.60" y2="632.50" stroke="#444" stroke-width="1.0"/>
<rect x="184.20" y="657.50" width="10.20" height="22.90" fill="#a03543"/>
<rect x="184.50" y="657.80" width="9.60" height="22.30" fill="none" stroke="#832b36" stroke-width="0.6"/>
<line x1="189.30" y1="657.50" x2="189.30" y2="640.50" stroke="#555" stroke-width="1.0"/>
<line x1="186.50" y1="640.50" x2="192.10" y2="640.50" stroke="#555" stroke-width="1.0"/>
<rect x="202.00" y="594.50" width="10.20" height="11.60" fill="#4e6282"/>
<rect x="202.30" y="594.80" width="9.60" height="11.00" fill="none" stroke="#3f506a" stroke-width="0.6"/>
<rect x="202.00" y="615.00" width="10.20" height="65.40" fill="#4e6282"/>
<rect x="202.30" y="615.30" width="9.60" height="64.80" fill="none" stroke="#3f506a" stroke-width="0.6"/>
<line x1="207.10" y1="594.50" x2="207.10" y2="592.20" stroke="#333" stroke-width="1.0"/>
<line x1="204.30" y1="592.20" x2="209.90" y2="592.20" stroke="#333" stroke-width="1.0"/>
<rect x="219.50" y="592.90" width="10.20" height="13.20" fill="#d5953d"/>
<rect x="219.80" y="593.20" width="9.60" height="12.60" fill="none" stroke="#ae7a32" stroke-width="0.6"/>
<rect x="219.50" y="615.00" width="10.20" height="65.40" fill="#d5953d"/>
<rect x="219.80" y="615.30" width="9.60" height="64.80" fill="none" stroke="#ae7a32" stroke-width="0.6"/>
<line x1="224.60" y1="592.90" x2="224.60" y2="592.30" stroke="#333" stroke-width="1.0"/>
<line x1="221.80" y1="592.30" x2="227.40" y2="592.30" stroke="#333" stroke-width="1.0"/>
<text x="115.60" y="693.30" font-size="7.9" text-anchor="middle" textLength="54.3" lengthAdjust="spacingAndGlyphs">250 nM ARV-771</text>
<text x="198.10" y="694.00" font-size="7.9" text-anchor="middle" textLength="45.2" lengthAdjust="spacingAndGlyphs">1 µM OTX015</text>
<text x="148.00" y="706.20" font-size="9.2" textLength="18.3" lengthAdjust="spacingAndGlyphs">4 hrs</text>
<rect x="138.40" y="557.50" width="11.70" height="5.40" fill="#7aa95c"/>
<text x="152.90" y="562.80" font-size="7.4" textLength="21.5" lengthAdjust="spacingAndGlyphs">RUNX1</text>
<rect x="138.40" y="567.30" width="11.70" height="5.40" fill="#a03543"/>
<text x="152.90" y="572.60" font-size="7.4" textLength="14.1" lengthAdjust="spacingAndGlyphs">MYC</text>
<rect x="138.40" y="577.10" width="11.70" height="5.40" fill="#4e6282"/>
<text x="152.90" y="582.40" font-size="7.4" textLength="11.4" lengthAdjust="spacingAndGlyphs">p21</text>
<rect x="138.40" y="586.90" width="11.70" height="5.40" fill="#d5953d"/>
<text x="152.90" y="592.20" font-size="7.4" textLength="24.5" lengthAdjust="spacingAndGlyphs">HEXIM1</text>
<text x="296.80" y="527.60" font-size="10.5" textLength="4.8" lengthAdjust="spacingAndGlyphs">F</text>
<line x1="339.00" y1="544.60" x2="339.00" y2="656.20" stroke="#444" stroke-width="1.5"/>
<line x1="335.60" y1="546.50" x2="339.00" y2="546.50" stroke="#231f20" stroke-width="1.0"/>
<text x="332.70" y="549.10" font-size="7.4" text-anchor="end" textLength="11.7" lengthAdjust="spacingAndGlyphs">100</text>
<line x1="335.60" y1="574.00" x2="339.00" y2="574.00" stroke="#231f20" stroke-width="1.0"/>
<text x="332.70" y="576.60" font-size="7.4" text-anchor="end" textLength="7.8" lengthAdjust="spacingAndGlyphs">75</text>
<line x1="335.60" y1="601.30" x2="339.00" y2="601.30" stroke="#231f20" stroke-width="1.0"/>
<text x="332.70" y="603.90" font-size="7.4" text-anchor="end" textLength="7.8" lengthAdjust="spacingAndGlyphs">50</text>
<line x1="335.60" y1="628.80" x2="339.00" y2="628.80" stroke="#231f20" stroke-width="1.0"/>
<text x="332.70" y="631.40" font-size="7.4" text-anchor="end" textLength="7.8" lengthAdjust="spacingAndGlyphs">25</text>
<line x1="335.60" y1="655.70" x2="339.00" y2="655.70" stroke="#231f20" stroke-width="1.0"/>
<text x="332.70" y="658.30" font-size="7.4" text-anchor="end" textLength="3.9" lengthAdjust="spacingAndGlyphs">0</text>
<line x1="339.00" y1="655.70" x2="503.80" y2="655.70" stroke="#444" stroke-width="1.5"/>
<text x="343.50" y="557.40" font-size="7.6" textLength="34" lengthAdjust="spacingAndGlyphs">OCI-AML5</text>
<text x="313.80" y="600.60" font-size="8.6" text-anchor="middle" textLength="48.7" lengthAdjust="spacingAndGlyphs" transform="rotate(-90 313.80 600.60)">% apoptosis</text>
<rect x="349.30" y="647.50" width="34.20" height="8.20" fill="#4e6282"/>
<rect x="349.60" y="647.80" width="33.60" height="7.60" fill="none" stroke="#3f506a" stroke-width="0.6"/>
<line x1="366.40" y1="647.50" x2="366.40" y2="646.30" stroke="#2f3d55" stroke-width="1.1"/>
<line x1="361.90" y1="646.30" x2="370.90" y2="646.30" stroke="#2f3d55" stroke-width="1.1"/>
<line x1="366.40" y1="655.70" x2="366.40" y2="658.50" stroke="#231f20" stroke-width="0.9"/>
<rect x="403.00" y="603.80" width="35.00" height="51.90" fill="#4e6282"/>
<rect x="403.30" y="604.10" width="34.40" height="51.30" fill="none" stroke="#3f506a" stroke-width="0.6"/>
<line x1="420.50" y1="603.80" x2="420.50" y2="600.00" stroke="#2f3d55" stroke-width="1.1"/>
<line x1="411.90" y1="600.00" x2="429.10" y2="600.00" stroke="#2f3d55" stroke-width="1.1"/>
<line x1="420.50" y1="655.70" x2="420.50" y2="658.50" stroke="#231f20" stroke-width="0.9"/>
<rect x="457.50" y="584.30" width="35.00" height="71.40" fill="#4e6282"/>
<rect x="457.80" y="584.60" width="34.40" height="70.80" fill="none" stroke="#3f506a" stroke-width="0.6"/>
<line x1="475.00" y1="584.30" x2="475.00" y2="583.50" stroke="#2f3d55" stroke-width="1.1"/>
<line x1="469.50" y1="583.50" x2="480.50" y2="583.50" stroke="#2f3d55" stroke-width="1.1"/>
<line x1="475.00" y1="655.70" x2="475.00" y2="658.50" stroke="#231f20" stroke-width="0.9"/>
<text x="366.60" y="668.60" font-size="7.6" text-anchor="middle" textLength="19.3" lengthAdjust="spacingAndGlyphs">sh NT</text>
<text x="420.40" y="669.00" font-size="7.6" text-anchor="middle" textLength="33.3" lengthAdjust="spacingAndGlyphs">BRD4 sh 1</text>
<text x="474.90" y="669.00" font-size="7.6" text-anchor="middle" textLength="33.8" lengthAdjust="spacingAndGlyphs">BRD4 sh 2</text>
<text x="372.00" y="682.40" font-size="9.4" textLength="98" lengthAdjust="spacingAndGlyphs">72 hrs post transduction</text>
<text x="313.70" y="226.20" font-size="10.5" textLength="5.3" lengthAdjust="spacingAndGlyphs">E</text>
<text x="389.10" y="226.40" font-size="7.8" text-anchor="middle" textLength="34.3" lengthAdjust="spacingAndGlyphs">OCI-AML5</text>
<line x1="357.00" y1="231.80" x2="421.30" y2="231.80" stroke="#231f20" stroke-width="1.0"/>
<text x="360.60" y="246.50" font-size="7.6" text-anchor="middle" textLength="18" lengthAdjust="spacingAndGlyphs" transform="rotate(-90 360.60 246.50)">sh NT</text>
<text x="394.20" y="242.20" font-size="7.6" text-anchor="middle" textLength="27.5" lengthAdjust="spacingAndGlyphs">BRD4 sh</text>
<text x="381.30" y="254.50" font-size="7.6" text-anchor="middle">1</text>
<text x="406.30" y="254.50" font-size="7.6" text-anchor="middle">2</text>
<defs><filter id="bl" x="-20%" y="-100%" width="140%" height="300%"><feGaussianBlur stdDeviation="0.75 0.6"/></filter><filter id="bl2" x="-20%" y="-100%" width="140%" height="300%"><feGaussianBlur stdDeviation="1.3"/></filter><linearGradient id="sm" x1="0" y1="0" x2="0" y2="1"><stop offset="0" stop-color="#000" stop-opacity="0.22"/><stop offset="1" stop-color="#000" stop-opacity="0.02"/></linearGradient></defs>
<clipPath id="cb1"><rect x="341.6" y="260.0" width="82.89999999999998" height="25.399999999999977" rx="1.2"/></clipPath><g clip-path="url(#cb1)">
<rect x="341.60" y="260.00" width="82.90" height="25.40" fill="#ececec"/>
<rect x="346.0" y="261.5" width="21.0" height="22.399999999999977" fill="#dcdcdc" filter="url(#bl2)"/>
<rect x="373.8" y="261.5" width="19.19999999999999" height="22.399999999999977" fill="#dedede" filter="url(#bl2)"/>
<rect x="398.8" y="261.5" width="20.69999999999999" height="22.399999999999977" fill="#dedede" filter="url(#bl2)"/>
<rect x="347.0" y="276.5" width="19.0" height="8.5" fill="url(#sm)" opacity="1.0" filter="url(#bl2)"/>
<rect x="374.8" y="276.5" width="17.19999999999999" height="8.5" fill="url(#sm)" opacity="0.5" filter="url(#bl2)"/>
<rect x="399.8" y="276.5" width="18.69999999999999" height="8.5" fill="url(#sm)" opacity="0.5" filter="url(#bl2)"/>
<path d="M346.50,268.93 C348.50,268.37 364.50,268.37 366.50,268.93 L366.50,271.87 C364.50,272.47 348.50,272.47 346.50,271.87 Z" fill="#0d0d0d" opacity="1.0" filter="url(#bl)"/>
<path d="M346.50,274.36 C348.50,273.96 364.50,273.96 366.50,274.36 L366.50,276.44 C364.50,276.86 348.50,276.86 346.50,276.44 Z" fill="#3a3a3a" opacity="1.0" filter="url(#bl)"/>
<path d="M374.30,269.26 C376.12,268.86 390.68,268.86 392.50,269.26 L392.50,271.34 C390.68,271.76 376.12,271.76 374.30,271.34 Z" fill="#a5a5a5" opacity="1.0" filter="url(#bl)"/>
<path d="M374.30,274.35 C376.12,273.98 390.68,273.98 392.50,274.35 L392.50,276.25 C390.68,276.64 376.12,276.64 374.30,276.25 Z" fill="#7a7a7a" opacity="1.0" filter="url(#bl)"/>
<path d="M399.30,269.35 C401.27,268.98 417.03,268.98 419.00,269.35 L419.00,271.25 C417.03,271.64 401.27,271.64 399.30,271.25 Z" fill="#b5b5b5" opacity="1.0" filter="url(#bl)"/>
<path d="M399.30,274.35 C401.27,273.98 417.03,273.98 419.00,274.35 L419.00,276.25 C417.03,276.64 401.27,276.64 399.30,276.25 Z" fill="#959595" opacity="1.0" filter="url(#bl)"/>
<rect x="342.70000000000005" y="261.1" width="80.69999999999997" height="23.199999999999978" fill="none" stroke="#f6f6f6" stroke-width="0.7" opacity="0.8"/>
</g>
<rect x="341.6" y="260.0" width="82.89999999999998" height="25.399999999999977" rx="1.2" fill="none" stroke="#333" stroke-width="1.1"/>
<clipPath id="cb2"><rect x="341.6" y="288.6" width="82.89999999999998" height="18.799999999999955" rx="1.2"/></clipPath><g clip-path="url(#cb2)">
<rect x="341.60" y="288.60" width="82.90" height="18.80" fill="#e8e8e8"/>
<rect x="346.0" y="290.1" width="21.0" height="15.799999999999955" fill="#dfdfdf" filter="url(#bl2)"/>
<rect x="373.8" y="290.1" width="19.19999999999999" height="15.799999999999955" fill="#dfdfdf" filter="url(#bl2)"/>
<rect x="398.8" y="290.1" width="20.69999999999999" height="15.799999999999955" fill="#dfdfdf" filter="url(#bl2)"/>
<rect x="347.0" y="298.5" width="19.0" height="7.5" fill="url(#sm)" opacity="0.3" filter="url(#bl2)"/>
<rect x="374.8" y="298.5" width="17.19999999999999" height="7.5" fill="url(#sm)" opacity="0.3" filter="url(#bl2)"/>
<rect x="399.8" y="298.5" width="18.69999999999999" height="7.5" fill="url(#sm)" opacity="0.3" filter="url(#bl2)"/>
<path d="M346.50,295.11 C348.50,294.61 364.50,294.61 366.50,295.11 L366.50,297.69 C364.50,298.23 348.50,298.23 346.50,297.69 Z" fill="#151515" opacity="1.0" filter="url(#bl)"/>
<path d="M374.30,295.12 C376.12,294.59 390.68,294.59 392.50,295.12 L392.50,297.88 C390.68,298.45 376.12,298.45 374.30,297.88 Z" fill="#111" opacity="1.0" filter="url(#bl)"/>
<path d="M396.80,295.09 C399.27,294.63 419.03,293.73 421.50,294.19 L421.50,296.61 C419.03,297.11 399.27,298.01 396.80,297.51 Z" fill="#1e1e1e" opacity="1.0" filter="url(#bl)"/>
<rect x="342.70000000000005" y="289.70000000000005" width="80.69999999999997" height="16.599999999999955" fill="none" stroke="#f6f6f6" stroke-width="0.7" opacity="0.8"/>
</g>
<rect x="341.6" y="288.6" width="82.89999999999998" height="18.799999999999955" rx="1.2" fill="none" stroke="#333" stroke-width="1.1"/>
<clipPath id="cb3"><rect x="341.6" y="310.6" width="82.89999999999998" height="23.799999999999955" rx="1.2"/></clipPath><g clip-path="url(#cb3)">
<rect x="341.60" y="310.60" width="82.90" height="23.80" fill="#e6e6e6"/>
<rect x="346.0" y="312.1" width="21.0" height="20.799999999999955" fill="#d6d6d6" filter="url(#bl2)"/>
<rect x="373.8" y="312.1" width="19.19999999999999" height="20.799999999999955" fill="#dadada" filter="url(#bl2)"/>
<rect x="398.8" y="312.1" width="20.69999999999999" height="20.799999999999955" fill="#e0e0e0" filter="url(#bl2)"/>
<rect x="347.0" y="324" width="19.0" height="9.5" fill="url(#sm)" opacity="0.8" filter="url(#bl2)"/>
<rect x="374.8" y="324" width="17.19999999999999" height="9.5" fill="url(#sm)" opacity="0.6" filter="url(#bl2)"/>
<rect x="399.8" y="324" width="18.69999999999999" height="9.5" fill="url(#sm)" opacity="0.3" filter="url(#bl2)"/>
<path d="M346.50,317.01 C348.50,316.51 364.50,316.51 366.50,317.01 L366.50,319.59 C364.50,320.13 348.50,320.13 346.50,319.59 Z" fill="#2a2a2a" opacity="1.0" filter="url(#bl)"/>
<path d="M346.50,321.21 C348.50,320.71 364.50,320.71 366.50,321.21 L366.50,323.79 C364.50,324.33 348.50,324.33 346.50,323.79 Z" fill="#1e1e1e" opacity="1.0" filter="url(#bl)"/>
<path d="M374.30,317.18 C376.12,316.75 390.68,316.75 392.50,317.18 L392.50,319.42 C390.68,319.88 376.12,319.88 374.30,319.42 Z" fill="#777" opacity="1.0" filter="url(#bl)"/>
<path d="M374.30,321.38 C376.12,320.95 390.68,320.95 392.50,321.38 L392.50,323.62 C390.68,324.08 376.12,324.08 374.30,323.62 Z" fill="#5e5e5e" opacity="1.0" filter="url(#bl)"/>
<path d="M399.30,317.44 C401.27,317.10 417.03,317.10 419.00,317.44 L419.00,319.16 C417.03,319.52 401.27,319.52 399.30,319.16 Z" fill="#c6c6c6" opacity="1.0" filter="url(#bl)"/>
<path d="M399.30,321.55 C401.27,321.18 417.03,321.18 419.00,321.55 L419.00,323.45 C417.03,323.84 401.27,323.84 399.30,323.45 Z" fill="#b8b8b8" opacity="1.0" filter="url(#bl)"/>
<rect x="342.70000000000005" y="311.70000000000005" width="80.69999999999997" height="21.599999999999955" fill="none" stroke="#f6f6f6" stroke-width="0.7" opacity="0.8"/>
</g>
<rect x="341.6" y="310.6" width="82.89999999999998" height="23.799999999999955" rx="1.2" fill="none" stroke="#333" stroke-width="1.1"/>
<clipPath id="cb4"><rect x="341.6" y="338.3" width="82.89999999999998" height="21.099999999999966" rx="1.2"/></clipPath><g clip-path="url(#cb4)">
<rect x="341.60" y="338.30" width="82.90" height="21.10" fill="#eaeaea"/>
<rect x="346.0" y="339.8" width="21.0" height="18.099999999999966" fill="#e2e2e2" filter="url(#bl2)"/>
<rect x="373.8" y="339.8" width="19.19999999999999" height="18.099999999999966" fill="#e2e2e2" filter="url(#bl2)"/>
<rect x="398.8" y="339.8" width="20.69999999999999" height="18.099999999999966" fill="#e4e4e4" filter="url(#bl2)"/>
<path d="M346.50,347.51 C348.50,347.01 364.50,347.01 366.50,347.51 L366.50,350.09 C364.50,350.63 348.50,350.63 346.50,350.09 Z" fill="#111" opacity="1.0" filter="url(#bl)"/>
<path d="M374.30,347.65 C376.12,347.17 390.68,347.17 392.50,347.65 L392.50,350.15 C390.68,350.67 376.12,350.67 374.30,350.15 Z" fill="#1a1a1a" opacity="1.0" filter="url(#bl)"/>
<path d="M399.30,347.95 C401.27,347.58 417.03,347.58 419.00,347.95 L419.00,349.85 C417.03,350.24 401.27,350.24 399.30,349.85 Z" fill="#a0a0a0" opacity="1.0" filter="url(#bl)"/>
<rect x="342.70000000000005" y="339.40000000000003" width="80.69999999999997" height="18.899999999999967" fill="none" stroke="#f6f6f6" stroke-width="0.7" opacity="0.8"/>
</g>
<rect x="341.6" y="338.3" width="82.89999999999998" height="21.099999999999966" rx="1.2" fill="none" stroke="#333" stroke-width="1.1"/>
<clipPath id="cb5"><rect x="341.6" y="362.3" width="82.89999999999998" height="25.30000000000001" rx="1.2"/></clipPath><g clip-path="url(#cb5)">
<rect x="341.60" y="362.30" width="82.90" height="25.30" fill="#e8e8e8"/>
<rect x="346.0" y="363.8" width="21.0" height="22.30000000000001" fill="#dadada" filter="url(#bl2)"/>
<rect x="373.8" y="363.8" width="19.19999999999999" height="22.30000000000001" fill="#dedede" filter="url(#bl2)"/>
<rect x="398.8" y="363.8" width="20.69999999999999" height="22.30000000000001" fill="#e0e0e0" filter="url(#bl2)"/>
<path d="M346.50,370.76 C348.50,370.36 364.50,370.36 366.50,370.76 L366.50,372.84 C364.50,373.26 348.50,373.26 346.50,372.84 Z" fill="#8a8a8a" opacity="1.0" filter="url(#bl)"/>
<path d="M374.30,370.85 C376.12,370.48 390.68,370.48 392.50,370.85 L392.50,372.75 C390.68,373.14 376.12,373.14 374.30,372.75 Z" fill="#b0b0b0" opacity="1.0" filter="url(#bl)"/>
<path d="M399.30,370.65 C401.27,370.28 417.03,370.28 419.00,370.65 L419.00,372.55 C417.03,372.94 401.27,372.94 399.30,372.55 Z" fill="#b8b8b8" opacity="1.0" filter="url(#bl)"/>
<path d="M346.50,375.96 C348.50,375.33 364.50,375.33 366.50,375.96 L366.50,379.24 C364.50,379.92 348.50,379.92 346.50,379.24 Z" fill="#0f0f0f" opacity="1.0" filter="url(#bl)"/>
<path d="M374.30,376.52 C376.12,375.99 390.68,375.99 392.50,376.52 L392.50,379.28 C390.68,379.85 376.12,379.85 374.30,379.28 Z" fill="#6a6a6a" opacity="1.0" filter="url(#bl)"/>
<path d="M399.30,376.19 C401.27,375.73 417.03,375.73 419.00,376.19 L419.00,378.61 C417.03,379.11 401.27,379.11 399.30,378.61 Z" fill="#a2a2a2" opacity="1.0" filter="url(#bl)"/>
<rect x="342.70000000000005" y="363.40000000000003" width="80.69999999999997" height="23.100000000000012" fill="none" stroke="#f6f6f6" stroke-width="0.7" opacity="0.8"/>
</g>
<rect x="341.6" y="362.3" width="82.89999999999998" height="25.30000000000001" rx="1.2" fill="none" stroke="#333" stroke-width="1.1"/>
<clipPath id="cb6"><rect x="341.6" y="390.6" width="82.89999999999998" height="22.19999999999999" rx="1.2"/></clipPath><g clip-path="url(#cb6)">
<rect x="341.60" y="390.60" width="82.90" height="22.20" fill="#eaeaea"/>
<rect x="346.0" y="392.1" width="21.0" height="19.19999999999999" fill="#e2e2e2" filter="url(#bl2)"/>
<rect x="373.8" y="392.1" width="19.19999999999999" height="19.19999999999999" fill="#e2e2e2" filter="url(#bl2)"/>
<rect x="398.8" y="392.1" width="20.69999999999999" height="19.19999999999999" fill="#e4e4e4" filter="url(#bl2)"/>
<path d="M346.50,398.22 C348.50,397.69 364.50,397.69 366.50,398.22 L366.50,400.98 C364.50,401.55 348.50,401.55 346.50,400.98 Z" fill="#151515" opacity="1.0" filter="url(#bl)"/>
<path d="M374.30,398.32 C376.12,397.79 390.68,397.79 392.50,398.32 L392.50,401.08 C390.68,401.65 376.12,401.65 374.30,401.08 Z" fill="#1e1e1e" opacity="1.0" filter="url(#bl)"/>
<path d="M399.30,398.49 C401.27,398.03 417.03,398.03 419.00,398.49 L419.00,400.91 C417.03,401.41 401.27,401.41 399.30,400.91 Z" fill="#707070" opacity="1.0" filter="url(#bl)"/>
<path d="M346.50,405.31 C348.50,405.04 364.50,405.04 366.50,405.31 L366.50,406.69 C364.50,406.98 348.50,406.98 346.50,406.69 Z" fill="#c0c0c0" opacity="1.0" filter="url(#bl)"/>
<path d="M374.30,405.31 C376.12,405.04 390.68,405.04 392.50,405.31 L392.50,406.69 C390.68,406.98 376.12,406.98 374.30,406.69 Z" fill="#c6c6c6" opacity="1.0" filter="url(#bl)"/>
<path d="M399.30,405.40 C401.27,405.16 417.03,405.16 419.00,405.40 L419.00,406.60 C417.03,406.85 401.27,406.85 399.30,406.60 Z" fill="#d8d8d8" opacity="1.0" filter="url(#bl)"/>
<rect x="342.70000000000005" y="391.70000000000005" width="80.69999999999997" height="19.99999999999999" fill="none" stroke="#f6f6f6" stroke-width="0.7" opacity="0.8"/>
</g>
<rect x="341.6" y="390.6" width="82.89999999999998" height="22.19999999999999" rx="1.2" fill="none" stroke="#333" stroke-width="1.1"/>
<clipPath id="cb7"><rect x="341.6" y="415.6" width="82.89999999999998" height="22.799999999999955" rx="1.2"/></clipPath><g clip-path="url(#cb7)">
<rect x="341.60" y="415.60" width="82.90" height="22.80" fill="#ececec"/>
<rect x="346.0" y="417.1" width="21.0" height="19.799999999999955" fill="#e6e6e6" filter="url(#bl2)"/>
<rect x="373.8" y="417.1" width="19.19999999999999" height="19.799999999999955" fill="#e4e4e4" filter="url(#bl2)"/>
<rect x="398.8" y="417.1" width="20.69999999999999" height="19.799999999999955" fill="#e4e4e4" filter="url(#bl2)"/>
<path d="M347.30,426.41 C349.14,425.91 363.86,425.91 365.70,426.41 L365.70,428.99 C363.86,429.53 349.14,429.53 347.30,428.99 Z" fill="#484848" opacity="1.0" filter="url(#bl)"/>
<path d="M373.80,425.69 C375.72,424.99 391.08,424.24 393.00,424.94 L393.00,428.56 C391.08,429.31 375.72,430.06 373.80,429.31 Z" fill="#151515" opacity="1.0" filter="url(#bl)"/>
<path d="M397.80,425.57 C400.07,424.91 418.23,424.31 420.50,424.97 L420.50,428.43 C418.23,429.14 400.07,429.74 397.80,429.03 Z" fill="#1a1a1a" opacity="1.0" filter="url(#bl)"/>
<rect x="342.70000000000005" y="416.70000000000005" width="80.69999999999997" height="20.599999999999955" fill="none" stroke="#f6f6f6" stroke-width="0.7" opacity="0.8"/>
</g>
<rect x="341.6" y="415.6" width="82.89999999999998" height="22.799999999999955" rx="1.2" fill="none" stroke="#333" stroke-width="1.1"/>
<clipPath id="cb8"><rect x="341.6" y="441.7" width="82.89999999999998" height="21.900000000000034" rx="1.2"/></clipPath><g clip-path="url(#cb8)">
<rect x="341.60" y="441.70" width="82.90" height="21.90" fill="#d0d0d0"/>
<rect x="346.0" y="443.2" width="21.0" height="18.900000000000034" fill="#c8c8c8" filter="url(#bl2)"/>
<rect x="373.8" y="443.2" width="19.19999999999999" height="18.900000000000034" fill="#c6c6c6" filter="url(#bl2)"/>
<rect x="398.8" y="443.2" width="20.69999999999999" height="18.900000000000034" fill="#c8c8c8" filter="url(#bl2)"/>
<path d="M348.50,450.24 C350.10,449.79 362.90,449.79 364.50,450.24 L364.50,452.56 C362.90,453.05 350.10,453.05 348.50,452.56 Z" fill="#333" opacity="1.0" filter="url(#bl)"/>
<path d="M374.50,449.89 C376.28,449.19 390.52,449.19 392.30,449.89 L392.30,453.51 C390.52,454.26 376.28,454.26 374.50,453.51 Z" fill="#111" opacity="1.0" filter="url(#bl)"/>
<path d="M399.80,450.06 C401.67,449.43 416.63,449.43 418.50,450.06 L418.50,453.34 C416.63,454.02 401.67,454.02 399.80,453.34 Z" fill="#1a1a1a" opacity="1.0" filter="url(#bl)"/>
<path d="M374.30,457.20 C376.12,456.96 390.68,456.96 392.50,457.20 L392.50,458.40 C390.68,458.65 376.12,458.65 374.30,458.40 Z" fill="#c2c2c2" opacity="1.0" filter="url(#bl)"/>
<path d="M399.30,457.20 C401.27,456.96 417.03,456.96 419.00,457.20 L419.00,458.40 C417.03,458.65 401.27,458.65 399.30,458.40 Z" fill="#bebebe" opacity="1.0" filter="url(#bl)"/>
<rect x="342.70000000000005" y="442.8" width="80.69999999999997" height="19.700000000000035" fill="none" stroke="#f6f6f6" stroke-width="0.7" opacity="0.8"/>
</g>
<rect x="341.6" y="441.7" width="82.89999999999998" height="21.900000000000034" rx="1.2" fill="none" stroke="#333" stroke-width="1.1"/>
<clipPath id="cb9"><rect x="341.6" y="466.8" width="82.89999999999998" height="21.80000000000001" rx="1.2"/></clipPath><g clip-path="url(#cb9)">
<rect x="341.60" y="466.80" width="82.90" height="21.80" fill="#eeeeee"/>
<rect x="346.0" y="468.3" width="21.0" height="18.80000000000001" fill="#e8e8e8" filter="url(#bl2)"/>
<rect x="373.8" y="468.3" width="19.19999999999999" height="18.80000000000001" fill="#e8e8e8" filter="url(#bl2)"/>
<rect x="398.8" y="468.3" width="20.69999999999999" height="18.80000000000001" fill="#e8e8e8" filter="url(#bl2)"/>
<path d="M345.30,476.57 C347.54,475.91 365.46,475.91 367.70,476.57 L367.70,480.03 C365.46,480.74 347.54,480.74 345.30,480.03 Z" fill="#111" opacity="1.0" filter="url(#bl)"/>
<path d="M372.50,476.77 C374.68,476.11 392.12,476.11 394.30,476.77 L394.30,480.23 C392.12,480.94 374.68,480.94 372.50,480.23 Z" fill="#111" opacity="1.0" filter="url(#bl)"/>
<path d="M397.10,476.57 C399.51,475.91 418.79,475.16 421.20,475.82 L421.20,479.28 C418.79,479.99 399.51,480.74 397.10,480.03 Z" fill="#111" opacity="1.0" filter="url(#bl)"/>
<rect x="342.70000000000005" y="467.90000000000003" width="80.69999999999997" height="19.600000000000012" fill="none" stroke="#f6f6f6" stroke-width="0.7" opacity="0.8"/>
</g>
<rect x="341.6" y="466.8" width="82.89999999999998" height="21.80000000000001" rx="1.2" fill="none" stroke="#333" stroke-width="1.1"/>
<line x1="432.00" y1="270.30" x2="443.50" y2="270.30" stroke="#231f20" stroke-width="0.95"/>
<path d="M426.9,270.3 L434.9,267.1 L432.5,270.3 L434.9,273.5 Z" fill="#231f20"/>
<text x="449.20" y="272.60" font-size="7.4" textLength="18.5" lengthAdjust="spacingAndGlyphs">BRD4</text>
<line x1="432.00" y1="296.60" x2="443.50" y2="296.60" stroke="#231f20" stroke-width="0.95"/>
<path d="M426.9,296.6 L434.9,293.40000000000003 L432.5,296.6 L434.9,299.8 Z" fill="#231f20"/>
<text x="449.20" y="298.90" font-size="7.4" textLength="18.5" lengthAdjust="spacingAndGlyphs">BRD2</text>
<line x1="432.00" y1="320.70" x2="443.50" y2="320.70" stroke="#231f20" stroke-width="0.95"/>
<path d="M426.9,320.7 L434.9,317.5 L432.5,320.7 L434.9,323.9 Z" fill="#231f20"/>
<text x="449.20" y="323.00" font-size="7.4" textLength="22.7" lengthAdjust="spacingAndGlyphs">RUNX1</text>
<line x1="432.00" y1="347.60" x2="443.50" y2="347.60" stroke="#231f20" stroke-width="0.95"/>
<path d="M426.9,347.6 L434.9,344.40000000000003 L432.5,347.6 L434.9,350.8 Z" fill="#231f20"/>
<text x="449.20" y="349.90" font-size="7.4" textLength="21.5" lengthAdjust="spacingAndGlyphs">c-Myb</text>
<line x1="432.00" y1="377.20" x2="443.50" y2="377.20" stroke="#231f20" stroke-width="0.95"/>
<path d="M426.9,377.2 L434.9,374.0 L432.5,377.2 L434.9,380.4 Z" fill="#231f20"/>
<text x="449.20" y="379.50" font-size="7.4" textLength="20.5" lengthAdjust="spacingAndGlyphs">c-Myc</text>
<line x1="432.00" y1="400.90" x2="443.50" y2="400.90" stroke="#231f20" stroke-width="0.95"/>
<path d="M426.9,400.90000000000003 L434.9,397.70000000000005 L432.5,400.90000000000003 L434.9,404.1 Z" fill="#231f20"/>
<text x="449.20" y="403.20" font-size="7.4" textLength="14.5" lengthAdjust="spacingAndGlyphs">PU.1</text>
<line x1="432.00" y1="427.20" x2="443.50" y2="427.20" stroke="#231f20" stroke-width="0.95"/>
<path d="M426.9,427.2 L434.9,424.0 L432.5,427.2 L434.9,430.4 Z" fill="#231f20"/>
<text x="449.20" y="429.50" font-size="7.4" textLength="11.5" lengthAdjust="spacingAndGlyphs">p21</text>
<line x1="432.00" y1="451.50" x2="443.50" y2="451.50" stroke="#231f20" stroke-width="0.95"/>
<path d="M426.9,451.5 L434.9,448.3 L432.5,451.5 L434.9,454.7 Z" fill="#231f20"/>
<text x="449.20" y="453.80" font-size="7.4" textLength="11.5" lengthAdjust="spacingAndGlyphs">p27</text>
<line x1="432.00" y1="478.40" x2="443.50" y2="478.40" stroke="#231f20" stroke-width="0.95"/>
<path d="M426.9,478.40000000000003 L434.9,475.20000000000005 L432.5,478.40000000000003 L434.9,481.6 Z" fill="#231f20"/>
<text x="449.20" y="480.70" font-size="7.4" textLength="24.0" lengthAdjust="spacingAndGlyphs">β-Actin</text>
<rect x="0.00" y="0.00" width="1.10" height="714.00" fill="#111"/>
<rect x="0.00" y="0.00" width="520.00" height="1.50" fill="#474747"/>
<rect x="518.40" y="0.00" width="1.60" height="714.00" fill="#3d3d3d"/>
<rect x="0.00" y="712.40" width="520.00" height="1.60" fill="#474747"/></svg>
</body></html>
